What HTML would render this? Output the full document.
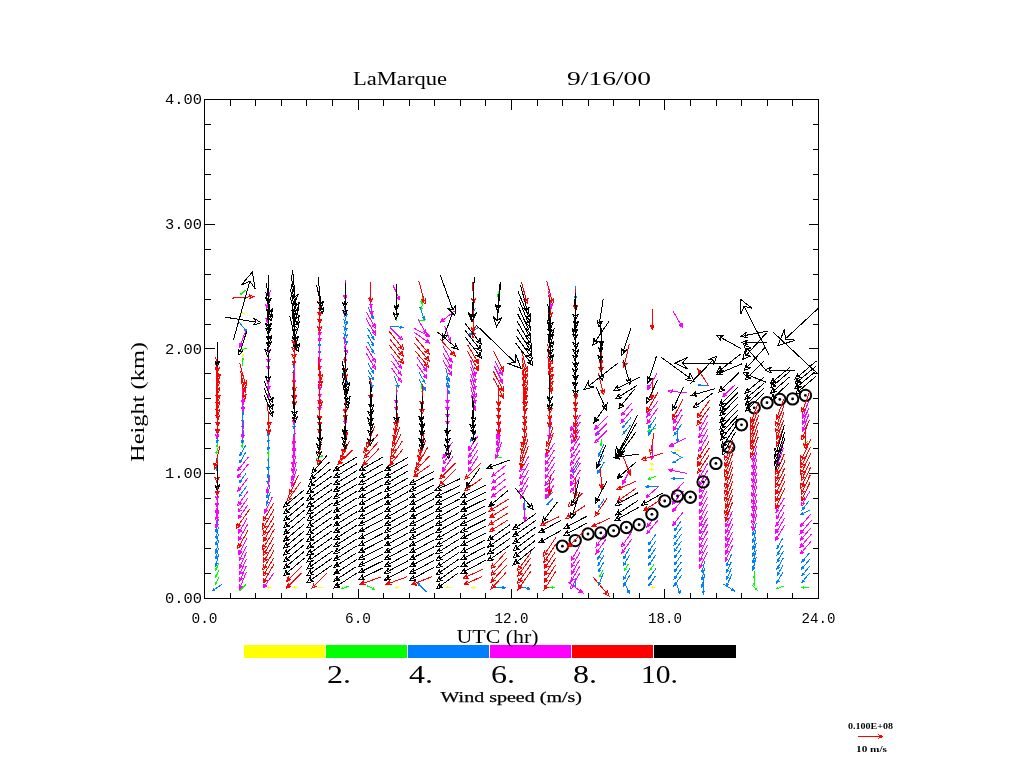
<!DOCTYPE html>
<html><head><meta charset="utf-8"><title>LaMarque 9/16/00</title>
<style>html,body{margin:0;padding:0;background:#fff;}body{width:1024px;height:768px;overflow:hidden;font-family:"Liberation Serif",serif;}svg{display:block;}</style>
</head><body>
<svg width="1024" height="768" viewBox="0 0 1024 768">
<rect x="0" y="0" width="1024" height="768" fill="#ffffff"/>
<defs><clipPath id="pc"><rect x="204.0" y="99.0" width="615.0" height="500.0"/></clipPath></defs>
<g clip-path="url(#pc)" fill="none" stroke-width="1" shape-rendering="crispEdges">
<path stroke="#ffff00" d="M242.9 357.4L242.9 355M242.9 353.9L242 355.7L242.9 355L243.7 355.7ZM244.6 313.1L242.2 313.1M241.1 313.1L242.9 313.9L242.2 313.1L242.9 312.3ZM266.7 587.5L269.1 587.5M270.2 587.5L268.4 586.7L269.1 587.5L268.4 588.3ZM292.3 587.5L294.7 587.5M295.8 587.5L294 586.7L294.7 587.5L294 588.3ZM317.9 587.5L320.3 587.5M321.4 587.5L319.6 586.7L320.3 587.5L319.6 588.3ZM394.6 587.5L397 587.5M398.1 587.5L396.3 586.7L397 587.5L396.3 588.3ZM445.8 587.5L448.2 587.5M449.3 587.5L447.5 586.7L448.2 587.5L447.5 588.3ZM471.4 587.5L473.8 587.5M474.9 587.5L473.1 586.7L473.8 587.5L473.1 588.3ZM650.5 587.5L652.9 587.5M654 587.5L652.1 586.7L652.9 587.5L652.1 588.3ZM654 469.5L651.6 469.5M650.5 469.5L652.3 470.4L651.6 469.5L652.3 468.7ZM654 464L651.6 464M650.5 464L652.3 464.9L651.6 464L652.3 463.2ZM679.5 450.3L677.1 450.3M676 450.3L677.9 451.1L677.1 450.3L677.9 449.5Z"/>
<path stroke="#00ff00" d="M218.8 577.4L216.3 582.9M215.8 583.9L217.3 582.6L216.3 582.9L215.8 581.9ZM218.8 570.6L216.3 575.9M215.8 576.9L217.4 575.6L216.3 575.9L215.8 574.9ZM218.8 563.6L216.2 569.2M215.8 570.2L217.3 568.9L216.2 569.2L215.8 568.2ZM218.5 446.9L216.4 452.6M216.1 453.7L217.5 452.3L216.4 452.6L215.9 451.7ZM217.6 439.6L217 446.2M217 447.3L218 445.6L217 446.2L216.3 445.4ZM245.7 584.7L240.8 589.6M240 590.3L241.9 589.6L240.8 589.6L240.7 588.5ZM243.6 439.6L242.4 446.2M242.2 447.3L243.3 445.7L242.4 446.2L241.7 445.4ZM242.9 365.5L242.9 359.2M242.9 358.1L242 359.9L242.9 359.2L243.7 359.9ZM246.4 348.2L240.3 350.4M239.3 350.8L241.3 350.9L240.3 350.4L240.7 349.3ZM245.3 290.1L241.2 294.2M240.4 295L242.3 294.3L241.2 294.2L241.1 293.1ZM268.8 453.2L268.2 460M268.1 461.1L269.1 459.4L268.2 460L267.4 459.2ZM268.8 446.7L268.2 452.8M268.1 453.9L269.1 452.2L268.2 452.8L267.5 452ZM316.5 458.9L321.8 455.9M322.7 455.4L320.7 455.6L321.8 455.9L321.6 457ZM348.7 586.2L342.7 588.4M341.7 588.8L343.7 588.9L342.7 588.4L343.1 587.4ZM367.3 585.9L373.3 588.7M374.3 589.1L373 587.6L373.3 588.7L372.3 589.1ZM395.8 385.1L396.8 391M397 392L397.5 390.1L396.8 391L395.8 390.4ZM396.4 312.7L396.4 319.2M396.4 320.3L397.2 318.5L396.4 319.2L395.5 318.5ZM421.3 384.7L422.4 391.3M422.6 392.4L423.1 390.4L422.4 391.3L421.5 390.7ZM418.5 320L424.3 320M425.4 320L423.6 319.1L424.3 320L423.6 320.8ZM422.5 302.3L421.6 309M421.4 310.1L422.5 308.5L421.6 309L420.8 308.2ZM422.5 295.7L421.6 301.9M421.4 303L422.5 301.3L421.6 301.9L420.9 301.1ZM502.3 457.2L496.3 457.2M495.2 457.2L497 458L496.3 457.2L497 456.3ZM499.4 288.6L498.2 295.4M498 296.5L499.2 294.8L498.2 295.4L497.5 294.6ZM545.8 587.5L552.8 587.5M553.9 587.5L552.1 586.7L552.8 587.5L552.1 588.3ZM603 570.4L599.7 576.2M599.1 577.1L600.8 576L599.7 576.2L599.3 575.1ZM601 438.5L601 444.5M601 445.6L601.9 443.8L601 444.5L600.2 443.8ZM628.5 563.7L625.3 569.2M624.8 570.2L626.4 569L625.3 569.2L624.9 568.2ZM654.3 563.9L650.7 569.1M650.1 570L651.8 569L650.7 569.1L650.4 568ZM655.9 476.4L649.5 478.7M648.5 479.1L650.5 479.3L649.5 478.7L649.9 477.7ZM655.9 428.4L649.6 430.7M648.5 431.1L650.5 431.2L649.6 430.7L649.9 429.6ZM751.9 584.8L756.4 589.4M757.2 590.2L756.5 588.3L756.4 589.4L755.3 589.5ZM754.9 577.6L754.3 584M754.2 585.1L755.2 583.4L754.3 584L753.5 583.2ZM754.9 570.7L754.3 577.1M754.2 578.2L755.2 576.5L754.3 577.1L753.5 576.4ZM783.7 586.2L777.5 588.4M776.5 588.8L778.5 589L777.5 588.4L777.9 587.4ZM809.4 587.5L803.1 587.5M802 587.5L803.8 588.3L803.1 587.5L803.8 586.7ZM808.3 440.9L803.9 445.2M803.2 446L805 445.3L803.9 445.2L803.8 444.1Z"/>
<path stroke="#0080ff" d="M222 584.2L213.8 589.9M212.6 590.8L215.3 590.3L213.8 589.9L214 588.4ZM218.8 554.3L216.2 564.3M215.7 565.8L217.6 563.6L216.2 564.3L215.3 563ZM218.7 547.6L216.3 557.3M215.9 558.8L217.6 556.7L216.3 557.3L215.4 556.1ZM218.8 539.8L216.2 551.2M215.8 552.9L217.8 550.3L216.2 551.2L215.1 549.7ZM218.5 533.7L216.4 543.7M216.1 545.2L217.8 543L216.4 543.7L215.4 542.5ZM218.5 526.6L216.4 537M216.1 538.6L217.8 536.2L216.4 537L215.4 535.8ZM218.4 519.2L216.4 530.6M216.1 532.3L218 529.7L216.4 530.6L215.3 529.2ZM217.9 457.5L216.9 468.8M216.7 470.5L218.3 467.8L216.9 468.8L215.7 467.6ZM217.5 430.5L217.1 441M217.1 442.6L218.4 440L217.1 441L215.9 440ZM246.5 486.3L240.2 495.2M239.3 496.6L241.9 495.1L240.2 495.2L239.8 493.6ZM246.4 472.7L240.3 481.4M239.4 482.7L241.9 481.3L240.3 481.4L239.9 479.9ZM246 451.8L240.6 461.1M239.8 462.5L242.2 460.8L240.6 461.1L240 459.6ZM245.8 445.2L240.7 454M239.9 455.4L242.2 453.8L240.7 454L240.2 452.6ZM243.5 430L242.4 441.4M242.3 443.2L243.9 440.4L242.4 441.4L241.2 440.2ZM242.9 416.6L242.9 427.5M242.9 429.1L244.1 426.4L242.9 427.5L241.6 426.4ZM242.9 409.7L242.9 420.7M242.9 422.3L244.2 419.6L242.9 420.7L241.6 419.6ZM242.9 403.1L242.9 413.6M242.9 415.2L244.1 412.5L242.9 413.6L241.7 412.5ZM239.2 322.2L245.6 330.2M246.5 331.5L245.9 328.7L245.6 330.2L244 330.2ZM270.3 491.9L267.1 503.1M266.6 504.8L268.7 502.3L267.1 503.1L266.1 501.6ZM269.8 485L267.4 496.2M267.1 498L269 495.4L267.4 496.2L266.4 494.9ZM269 471.5L268.1 482.3M267.9 484L269.4 481.4L268.1 482.3L266.9 481.2ZM269 464.3L268 475.7M267.9 477.4L269.5 474.7L268 475.7L266.8 474.5ZM269 458L268.1 468.5M267.9 470.1L269.4 467.5L268.1 468.5L266.9 467.3ZM268.7 436.9L268.3 448.2M268.2 450L269.7 447.2L268.3 448.2L267 447.1ZM268.7 430.5L268.3 441.1M268.2 442.7L269.6 440.1L268.3 441.1L267.1 440ZM268.7 423.2L268.3 434.5M268.2 436.2L269.6 433.4L268.3 434.5L267 433.3ZM268.5 341.6L268.5 351.6M268.5 353.2L269.6 350.7L268.5 351.6L267.3 350.7ZM294 423L294 434.7M294 436.4L295.4 433.5L294 434.7L292.7 433.5ZM294 417L294 427.2M294 428.7L295.2 426.2L294 427.2L292.9 426.2ZM294.3 361.3L293.9 372.9M293.8 374.7L295.3 371.8L293.9 372.9L292.5 371.7ZM294.2 355.2L293.9 365.5M293.8 367.1L295.1 364.5L293.9 365.5L292.7 364.4ZM319.6 340.8L319.6 352.2M319.6 354L321 351.1L319.6 352.2L318.3 351.1ZM319.6 334L319.6 345.3M319.6 347.1L320.9 344.2L319.6 345.3L318.3 344.2ZM343.6 372.2L346.4 382.8M346.8 384.4L347.4 381.4L346.4 382.8L344.9 382.1ZM343.5 332.6L346.4 342.8M346.9 344.3L347.3 341.4L346.4 342.8L345 342.1ZM343.7 326.1L346.3 335.7M346.8 337.2L347.2 334.5L346.3 335.7L345 335.1ZM343.7 319.2L346.3 328.9M346.7 330.3L347.2 327.6L346.3 328.9L344.9 328.2ZM343.5 311.5L346.4 322.6M346.9 324.3L347.5 321.2L346.4 322.6L344.8 321.9ZM343.8 305.3L346.3 315.3M346.6 316.8L347.2 314L346.3 315.3L344.9 314.6ZM368.7 375.9L372.4 386M372.9 387.5L373.2 384.6L372.4 386L370.8 385.4ZM367.9 369.9L372.9 378.5M373.7 379.8L373.4 377.1L372.9 378.5L371.4 378.2ZM367.7 362.7L373 371.9M373.8 373.3L373.6 370.3L373 371.9L371.4 371.6ZM367.6 341.8L373.2 351.5M374 353L373.7 349.9L373.2 351.5L371.5 351.2ZM367.7 335.1L373.1 344.5M373.9 346L373.7 343L373.1 344.5L371.5 344.3ZM367.6 328.1L373.2 337.8M374 339.3L373.7 336.2L373.2 337.8L371.5 337.5ZM368.2 307.6L372.7 317.2M373.4 318.6L373.4 315.7L372.7 317.2L371.1 316.7ZM393.9 375.5L398.2 386.3M398.9 387.9L399.1 384.7L398.2 386.3L396.5 385.7ZM390.2 326.3L401 327.2M402.6 327.4L400 325.9L401 327.2L399.8 328.4ZM426.3 591.8L418.8 584.3M417.7 583.2L418.7 585.9L418.8 584.3L420.4 584.2ZM418.6 378.6L424.4 388.7M425.3 390.3L425 387L424.4 388.7L422.7 388.4ZM418.9 372.3L424.2 381.4M425 382.8L424.7 379.9L424.2 381.4L422.6 381.2ZM419.8 307L423.6 317.6M424.2 319.2L424.4 316.1L423.6 317.6L422 317ZM446 383L448.6 392.7M449 394.2L449.5 391.4L448.6 392.7L447.3 392ZM446 375.8L448.7 386.1M449.1 387.6L449.6 384.7L448.7 386.1L447.2 385.4ZM445.8 368.4L448.8 379.6M449.3 381.3L449.8 378.1L448.8 379.6L447.2 378.8ZM476.1 431.5L471 440.3M470.2 441.7L472.5 440L471 440.3L470.4 438.9ZM477.9 327.6L469.6 334.6M468.3 335.6L471.2 334.9L469.6 334.6L469.6 332.9ZM475.6 307.8L471.3 317M470.6 318.4L472.8 316.6L471.3 317L470.6 315.6ZM492.1 587.3L503.5 587.7M505.3 587.7L502.5 586.3L503.5 587.7L502.4 589ZM518.6 586L528.5 588.6M530 589L527.8 587.2L528.5 588.6L527.2 589.5ZM524.1 499.4L524.4 509.4M524.5 511L525.6 508.4L524.4 509.4L523.2 508.5ZM553.1 498.6L547.5 504.1M546.7 504.9L548.7 504.2L547.5 504.1L547.4 502.9ZM553.1 491.7L547.5 497.2M546.7 498.1L548.7 497.3L547.5 497.2L547.4 496ZM549.9 416.8L549.9 427.4M549.9 429L551.1 426.3L549.9 427.4L548.6 426.3ZM575.9 578.2L575.2 586M575.1 587.2L576.1 585.3L575.2 586L574.3 585.2ZM578.7 461.8L573.1 471.6M572.2 473.1L574.8 471.3L573.1 471.6L572.5 470ZM575.5 286L575.5 297.3M575.5 299L576.8 296.2L575.5 297.3L574.1 296.2ZM603.2 573.3L599.4 583.7M598.9 585.3L601 583.1L599.4 583.7L598.6 582.2ZM604 561.8L598.8 570.7M598.1 572.1L600.4 570.4L598.8 570.7L598.3 569.2ZM604.1 554.8L598.8 563.9M598 565.3L600.4 563.7L598.8 563.9L598.2 562.4ZM604.3 547.6L598.7 557.3M597.8 558.8L600.4 557L598.7 557.3L598.1 555.7ZM603.9 499.7L598.9 506.8M598.2 507.9L600.3 506.7L598.9 506.8L598.6 505.5ZM604.4 461.7L598.6 471.7M597.7 473.2L600.3 471.4L598.6 471.7L598 470ZM604.1 455.3L598.8 464.5M598 465.9L600.4 464.2L598.8 464.5L598.3 463ZM603.7 444.5L599.1 454.6M598.3 456.1L600.7 454.1L599.1 454.6L598.3 453ZM605 425.3L598.1 433M597.1 434.1L599.7 433L598.1 433L597.9 431.4ZM623.8 581.4L628.7 592M629.4 593.6L629.4 590.3L628.7 592L627 591.5ZM629.7 575.3L624.4 584.6M623.5 586L626 584.3L624.4 584.6L623.8 583ZM630 568L624.2 578.1M623.3 579.6L625.9 577.7L624.2 578.1L623.6 576.4ZM629.6 554.9L624.4 563.9M623.6 565.2L626 563.6L624.4 563.9L623.9 562.4ZM629.8 547.8L624.3 557.2M623.5 558.6L626 556.9L624.3 557.2L623.7 555.6ZM630.3 425.3L623.9 433M622.9 434.2L625.4 433L623.9 433L623.6 431.5ZM630.9 417.7L623.5 426.6M622.3 428L625.2 426.6L623.5 426.6L623.2 424.9ZM655.6 575.7L649.7 584.3M648.8 585.5L651.3 584.1L649.7 584.3L649.3 582.7ZM655.8 568.7L649.6 577.5M648.6 578.9L651.2 577.4L649.6 577.5L649.2 575.9ZM655.8 555L649.6 563.8M648.6 565.2L651.2 563.7L649.6 563.8L649.2 562.2ZM655.8 548.1L649.6 556.9M648.6 558.3L651.2 556.8L649.6 556.9L649.2 555.4ZM656 540.9L649.4 550.3M648.4 551.8L651.2 550.2L649.4 550.3L649 548.6ZM656 534.1L649.4 543.4M648.4 544.9L651.2 543.3L649.4 543.4L649 541.8ZM658.5 486.7L647.6 486.7M645.9 486.7L648.7 487.9L647.6 486.7L648.7 485.4ZM656 424.4L649.5 433.7M648.5 435.1L651.2 433.5L649.5 433.7L649 432ZM656 417.4L649.4 426.9M648.4 428.3L651.2 426.7L649.4 426.9L648.9 425.2ZM675.6 581.5L679.4 591.9M680 593.5L680.2 590.5L679.4 591.9L677.8 591.3ZM681.7 575.1L674.9 584.7M673.9 586.2L676.7 584.5L674.9 584.7L674.5 583ZM681.6 568.3L675 577.8M674 579.2L676.7 577.6L675 577.8L674.5 576.1ZM681.2 562.1L675.3 570.5M674.4 571.8L676.9 570.3L675.3 570.5L674.9 569ZM681.3 555.1L675.2 563.7M674.3 565L676.8 563.6L675.2 563.7L674.8 562.2ZM681.1 548.5L675.3 556.7M674.5 557.9L676.9 556.6L675.3 556.7L675 555.2ZM681.5 541.1L675.1 550.2M674.1 551.6L676.8 550.1L675.1 550.2L674.6 548.6ZM681.5 534.2L675.1 543.4M674.1 544.8L676.8 543.2L675.1 543.4L674.6 541.7ZM681.5 527.3L675.1 536.5M674.1 537.9L676.8 536.4L675.1 536.5L674.6 534.9ZM681.2 520.9L675.3 529.4M674.4 530.7L676.8 529.2L675.3 529.4L674.9 527.8ZM683.7 478.4L673.4 478.4M671.9 478.4L674.5 479.6L673.4 478.4L674.5 477.2ZM683.1 456.9L673.9 462.1M672.5 462.9L675.4 462.7L673.9 462.1L674.2 460.6ZM683.1 458.2L673.9 452.8M672.4 452L674.1 454.4L673.9 452.8L675.4 452.3ZM678 428.5L677.6 440.2M677.6 441.9L679 439.1L677.6 440.2L676.3 439ZM681.5 424.4L675.1 433.6M674.1 435L676.8 433.5L675.1 433.6L674.6 432ZM703.4 581.4L703.4 592M703.4 593.6L704.6 590.9L703.4 592L702.1 590.9ZM704.8 574.3L702.3 585.3M701.9 586.9L703.8 584.5L702.3 585.3L701.3 583.9ZM704.8 567.7L702.3 578.3M702 579.9L703.8 577.5L702.3 578.3L701.3 576.9ZM704.7 561.3L702.4 571.1M702.1 572.5L703.8 570.4L702.4 571.1L701.5 569.8ZM708.4 385.1L699.7 385.1M698.4 385.1L700.6 386.1L699.7 385.1L700.6 384.1ZM723.5 584L733 590.1M734.4 591L732.8 588.4L733 590.1L731.3 590.6ZM731.8 574.6L726.9 585.1M726.2 586.6L728.6 584.6L726.9 585.1L726.2 583.5ZM731.6 568.1L727 578M726.3 579.5L728.6 577.5L727 578L726.3 576.5ZM731.4 561.6L727.1 570.8M726.5 572.3L728.6 570.4L727.1 570.8L726.5 569.4ZM731.7 554.1L726.9 564.4M726.2 566L728.6 564L726.9 564.4L726.2 562.9ZM756.2 557.1L753.3 568.2M752.8 569.8L754.9 567.4L753.3 568.2L752.3 566.7ZM756.2 550.4L753.3 561.2M752.9 562.8L754.9 560.5L753.3 561.2L752.3 559.8ZM756.3 543.3L753.3 554.5M752.8 556.2L754.9 553.8L753.3 554.5L752.3 553.1ZM756.2 536.6L753.3 547.6M752.8 549.2L754.9 546.8L753.3 547.6L752.3 546.1ZM756.2 529.7L753.3 540.7M752.8 542.4L754.9 540L753.3 540.7L752.3 539.3ZM756.2 523.1L753.3 533.7M752.9 535.3L754.9 532.9L753.3 533.7L752.4 532.3ZM783.4 571.5L777.7 581.4M776.8 582.9L779.4 581.1L777.7 581.4L777.1 579.8ZM783 565.3L778 574M777.2 575.4L779.5 573.8L778 574L777.5 572.6ZM783.3 558L777.8 567.6M776.9 569L779.4 567.3L777.8 567.6L777.2 566ZM783.3 551.2L777.8 560.6M777 562.1L779.5 560.3L777.8 560.6L777.2 559.1ZM783.2 544.4L777.8 553.7M777 555.2L779.5 553.4L777.8 553.7L777.3 552.2ZM783.3 537.4L777.8 547M777 548.4L779.4 546.7L777.8 547L777.2 545.4ZM809.7 573.1L802.7 581.4M801.7 582.7L804.4 581.4L802.7 581.4L802.5 579.8ZM809.6 566.4L802.8 574.5M801.8 575.7L804.4 574.4L802.8 574.5L802.6 572.9ZM809.9 559.1L802.6 567.9M801.5 569.2L804.3 567.9L802.6 567.9L802.3 566.2ZM809.6 552.7L802.9 560.7M801.8 561.9L804.5 560.7L802.9 560.7L802.6 559.1ZM810.2 509.9L802.4 513.6M801.2 514.2L803.6 514.2L802.4 513.6L802.7 512.3ZM809.3 500.6L803.1 508.5M802.1 509.7L804.6 508.5L803.1 508.5L802.8 507Z"/>
<path stroke="#ff00ff" d="M218.6 509.9L216.4 525.5M216 527.9L218.4 524.2L216.4 525.5L214.8 523.7ZM218.3 503L216.5 518.7M216.3 521.1L218.5 517.4L216.5 518.7L214.9 517ZM218.1 496.5L216.7 511.6M216.5 513.9L218.6 510.2L216.7 511.6L215.1 509.9ZM217.8 489.9L216.9 504.5M216.8 506.7L218.7 503.2L216.9 504.5L215.3 503ZM217.6 482.7L217.1 497.9M217 500.2L218.9 496.5L217.1 497.9L215.3 496.3ZM217.6 421L217.1 436.1M217 438.4L218.9 434.7L217.1 436.1L215.4 434.6ZM246.3 572.2L240.4 586.8M239.5 589.1L242.7 586.1L240.4 586.8L239.2 584.7ZM246.1 566.3L240.5 579.3M239.7 581.3L242.6 578.7L240.5 579.3L239.6 577.4ZM246.4 559L240.3 572.7M239.4 574.8L242.5 572.1L240.3 572.7L239.3 570.7ZM246.8 551.7L240 566.2M239 568.4L242.4 565.6L240 566.2L239 564ZM246.5 545.8L240.2 558.7M239.3 560.6L242.3 558.1L240.2 558.7L239.3 556.7ZM247 538.1L239.8 552.4M238.7 554.5L242.2 551.8L239.8 552.4L238.9 550.1ZM247.6 524.5L239.4 538.6M238.2 540.8L241.9 538.2L239.4 538.6L238.6 536.3ZM247.1 518.4L239.8 531.1M238.7 533.1L242 530.8L239.8 531.1L239 529ZM247.5 505.4L239.5 516.9M238.3 518.6L241.6 516.7L239.5 516.9L238.9 514.8ZM247.7 498.3L239.3 510.3M238.1 512.1L241.5 510.1L239.3 510.3L238.8 508.1ZM248 491L239.1 503.7M237.7 505.7L241.5 503.5L239.1 503.7L238.5 501.4ZM247.9 478.1L239.2 489.4M237.8 491.1L241.3 489.3L239.2 489.4L238.7 487.2ZM248.4 463.9L238.8 476M237.4 477.9L241.2 476L238.8 476L238.4 473.7ZM248.2 457.2L238.9 469.1M237.5 470.9L241.2 469L238.9 469.1L238.5 466.8ZM243.2 421.2L242.7 436M242.6 438.2L244.4 434.6L242.7 436L241 434.5ZM242.6 393.4L243.1 408.8M243.2 411.1L244.8 407.2L243.1 408.8L241.3 407.3ZM242.6 386.6L243.1 401.9M243.2 404.2L244.8 400.3L243.1 401.9L241.3 400.4ZM246.1 329.7L240.5 345M239.7 347.3L242.9 344.1L240.5 345L239.3 342.8ZM273.5 573.4L264.7 586M263.4 587.9L267.1 585.8L264.7 586L264.1 583.7ZM272.2 497.2L265.7 511M264.7 513.2L268 510.4L265.7 511L264.7 508.9ZM269.9 476.3L267.4 490.7M267 492.9L269.3 489.6L267.4 490.7L265.9 489ZM268.5 379.7L268.5 395.1M268.5 397.5L270.3 393.6L268.5 395.1L266.7 393.6ZM268.5 373.5L268.5 387.7M268.5 389.9L270.1 386.3L268.5 387.7L266.8 386.3ZM268.8 365.9L268.2 381.5M268.1 383.8L270.1 380L268.2 381.5L266.5 379.9ZM268.5 352.7L268.5 367.3M268.5 369.5L270.2 365.9L268.5 367.3L266.7 365.9ZM268.5 345.3L268.5 360.9M268.5 363.2L270.3 359.3L268.5 360.9L266.6 359.3ZM270.4 290.3L267 306.1M266.5 308.5L269.2 304.9L267 306.1L265.5 304.1ZM269.8 303.7L267.5 320M267.1 322.5L269.6 318.6L267.5 320L265.8 318.1ZM296.5 469.2L292.2 484M291.6 486.3L294.4 483.1L292.2 484L290.9 482.1ZM296.3 461.8L292.4 477.6M291.8 480L294.6 476.5L292.4 477.6L290.9 475.6ZM295.7 455.7L292.8 470.1M292.4 472.3L294.8 469L292.8 470.1L291.4 468.4ZM295.5 448.2L293 463.8M292.6 466.1L295.1 462.5L293 463.8L291.4 461.9ZM295 442.3L293.4 456.2M293.1 458.3L295.1 455L293.4 456.2L291.9 454.7ZM294.7 435.3L293.6 449.5M293.4 451.6L295.3 448.2L293.6 449.5L292 447.9ZM294.3 428L293.8 442.9M293.7 445.2L295.6 441.5L293.8 442.9L292.1 441.4ZM294 407.6L294 422.2M294 424.4L295.7 420.7L294 422.2L292.3 420.7ZM294 365.7L294 381.6M294 384L295.9 380L294 381.6L292.2 380ZM319.6 393.4L319.6 408.8M319.6 411.2L321.4 407.3L319.6 408.8L317.8 407.3ZM319.6 386.7L319.6 401.9M319.6 404.2L321.4 400.4L319.6 401.9L317.8 400.4ZM319.6 379.4L319.6 395.3M319.6 397.7L321.5 393.7L319.6 395.3L317.8 393.7ZM319.6 373L319.6 388.1M319.6 390.4L321.4 386.6L319.6 388.1L317.9 386.6ZM319.6 352.5L319.6 367.5M319.6 369.8L321.4 366L319.6 367.5L317.9 366ZM319.6 345.9L319.6 360.4M319.6 362.6L321.3 359L319.6 360.4L317.9 359ZM319.6 325.5L319.6 339.7M319.6 341.8L321.3 338.3L319.6 339.7L318 338.3ZM319.6 318L319.6 333.3M319.6 335.7L321.4 331.8L319.6 333.3L317.8 331.8ZM345.2 407.6L345.2 422.2M345.2 424.4L346.9 420.7L345.2 422.2L343.5 420.7ZM344.9 345.9L345.4 360.4M345.5 362.6L347.1 358.9L345.4 360.4L343.7 359ZM343.7 336.7L346.3 351.7M346.7 354L347.8 349.9L346.3 351.7L344.3 350.5ZM345.2 296.9L345.2 313.1M345.2 315.6L347.1 311.5L345.2 313.1L343.3 311.5ZM345.2 280.4L345.2 296.7M345.2 299.1L347.1 295.1L345.2 296.7L343.3 295.1ZM366.3 353.3L374.1 366.8M375.3 368.9L374.9 364.6L374.1 366.8L371.8 366.4ZM366.3 346.4L374.1 360M375.3 362.1L374.9 357.8L374.1 360L371.8 359.6ZM366.1 318.7L374.3 332.8M375.5 335L375.1 330.5L374.3 332.8L371.8 332.4ZM366.2 311.9L374.2 325.9M375.4 328L375 323.6L374.2 325.9L371.8 325.4ZM369.5 297.2L371.7 312.9M372.1 315.3L373.3 311.1L371.7 312.9L369.7 311.6ZM370.5 291.2L371 305.4M371.1 307.5L372.6 303.9L371 305.4L369.3 304ZM396.4 393.5L396.4 408.7M396.4 411L398.1 407.2L396.4 408.7L394.6 407.2ZM396.4 387.1L396.4 401.5M396.4 403.7L398.1 400.1L396.4 401.5L394.7 400.1ZM391.4 367.8L400 380M401.3 381.9L400.6 377.8L400 380L397.7 379.8ZM391.6 361.2L399.9 373M401.1 374.8L400.4 370.8L399.9 373L397.7 372.8ZM391.3 353.9L400.1 366.4M401.4 368.3L400.7 364.2L400.1 366.4L397.8 366.2ZM390.1 327.4L401 338.3M402.6 339.9L401.2 335.9L401 338.3L398.6 338.5ZM392.9 285L398.9 298M399.9 300L399.9 296L398.9 298L396.8 297.5ZM417.2 364.6L425.5 376.4M426.8 378.3L426.1 374.3L425.5 376.4L423.3 376.2ZM417.1 357.6L425.6 369.7M426.8 371.5L426.1 367.5L425.6 369.7L423.3 369.5ZM414.3 332.4L427.6 341.8M429.7 343.2L427.4 339.3L427.6 341.8L425.2 342.4ZM414.4 328.5L427.5 335.1M429.5 336.1L427 332.9L427.5 335.1L425.4 336ZM417.9 319L425 331.4M426.1 333.2L425.7 329.3L425 331.4L422.8 331ZM452.9 456.4L443.6 469.7M442.2 471.7L446.1 469.4L443.6 469.7L443 467.3ZM451.9 450.3L444.3 462.2M443.1 464.1L446.5 461.9L444.3 462.2L443.7 460.2ZM452.2 442.3L444.1 456.2M442.9 458.3L446.5 455.8L444.1 456.2L443.3 453.9ZM447.5 406.9L447.5 422.7M447.5 425.1L449.4 421.1L447.5 422.7L445.7 421.1ZM447.5 400L447.5 415.9M447.5 418.3L449.4 414.3L447.5 415.9L445.7 414.3ZM447.5 393.6L447.5 408.7M447.5 411L449.3 407.2L447.5 408.7L445.8 407.2ZM447.5 386.5L447.5 402M447.5 404.3L449.3 400.4L447.5 402L445.7 400.4ZM443.1 360.4L450.8 373.6M451.9 375.6L451.6 371.4L450.8 373.6L448.5 373.2ZM443.2 353.6L450.7 366.7M451.9 368.7L451.5 364.5L450.7 366.7L448.5 366.3ZM443 346.4L450.9 360.1M452.1 362.2L451.7 357.8L450.9 360.1L448.5 359.7ZM444.6 325.7L449.7 339.6M450.5 341.7L450.8 337.6L449.7 339.6L447.6 338.8ZM454.6 311L442.4 320.6M440.5 322L444.7 321.1L442.4 320.6L442.5 318.2ZM478 456.4L469.5 469.6M468.2 471.6L471.9 469.3L469.5 469.6L468.8 467.3ZM477.9 449.8L469.6 462.6M468.4 464.5L471.9 462.3L469.6 462.6L468.9 460.3ZM477.6 443.4L469.8 455.4M468.6 457.2L472 455.1L469.8 455.4L469.2 453.3ZM477.8 436.3L469.7 448.7M468.5 450.6L471.9 448.4L469.7 448.7L469 446.5ZM470.9 394.4L474.8 408.1M475.4 410.1L476 406.3L474.8 408.1L472.8 407.2ZM470.7 387.1L474.9 401.6M475.6 403.8L476.2 399.6L474.9 401.6L472.8 400.6ZM470.4 379.5L475.1 395.2M475.9 397.6L476.5 393.1L475.1 395.2L472.8 394.2ZM470.6 373.5L475 387.7M475.7 389.9L476.2 385.8L475 387.7L472.9 386.8ZM470.6 366.9L475 380.7M475.7 382.8L476.2 378.8L475 380.7L472.9 379.9ZM470.4 359.7L475.1 374.1M475.8 376.3L476.3 372.1L475.1 374.1L473 373.2ZM506.1 485.7L493.3 495.7M491.3 497.2L495.7 496.2L493.3 495.7L493.4 493.2ZM505.7 479.1L493.6 488.6M491.7 490.1L495.9 489.1L493.6 488.6L493.6 486.3ZM505.3 472.6L493.8 481.5M492.1 482.9L496 482L493.8 481.5L493.9 479.3ZM505.6 465.5L493.7 474.8M491.8 476.2L495.9 475.3L493.7 474.8L493.7 472.5ZM501.6 442.4L496.6 456.1M495.8 458.2L498.7 455.4L496.6 456.1L495.5 454.2ZM500.2 434.7L497.6 449.9M497.2 452.2L499.6 448.7L497.6 449.9L496.1 448.1ZM500.3 427.5L497.5 443.3M497.1 445.7L499.6 442L497.5 443.3L496 441.4ZM500.3 420.6L497.5 436.4M497.1 438.8L499.6 435.2L497.5 436.4L496 434.5ZM494.5 366.5L501.8 381M502.9 383.2L502.8 378.7L501.8 381L499.4 380.4ZM495 360.8L501.4 373.3M502.4 375.2L502.3 371.3L501.4 373.3L499.3 372.8ZM523.5 502.9L524.9 518.8M525.1 521.2L526.6 517.1L524.9 518.8L522.9 517.4ZM528.3 484.4L521.3 496.6M520.2 498.5L523.4 496.2L521.3 496.6L520.6 494.6ZM528.8 476.9L521 490.3M519.8 492.3L523.3 489.9L521 490.3L520.2 488.1ZM528.6 470.3L521.2 483.2M520 485.1L523.4 482.8L521.2 483.2L520.4 481ZM528.7 463.2L521 476.5M519.9 478.5L523.3 476.1L521 476.5L520.2 474.3ZM528.7 456.4L521.1 469.6M519.9 471.6L523.4 469.2L521.1 469.6L520.3 467.4ZM554.2 484.5L546.7 496.6M545.5 498.4L548.8 496.3L546.7 496.6L546 494.5ZM554.3 477.4L546.6 489.9M545.4 491.8L548.8 489.6L546.6 489.9L545.9 487.7ZM554.8 469.8L546.2 483.6M544.9 485.6L548.7 483.2L546.2 483.6L545.5 481.2ZM554.5 463.5L546.5 476.3M545.2 478.3L548.8 476L546.5 476.3L545.8 474.1ZM554.5 456.6L546.5 469.5M545.3 471.4L548.8 469.1L546.5 469.5L545.8 467.3ZM554.5 449.7L546.5 462.6M545.2 464.6L548.8 462.3L546.5 462.6L545.7 460.4ZM554.3 443.2L546.6 455.5M545.4 457.4L548.8 455.2L546.6 455.5L545.9 453.4ZM550.7 420.3L549.3 436.6M549.1 439.1L551.3 435.2L549.3 436.6L547.5 434.9ZM548.4 290.8L551 305.7M551.4 308L552.5 303.9L551 305.7L549 304.6ZM568.1 582L580.9 591.6M582.8 593L580.7 589.1L580.9 591.6L578.5 592.1ZM580.1 572.6L572.1 586.5M570.8 588.6L574.5 586.1L572.1 586.5L571.2 584.2ZM580 565.9L572.1 579.6M570.9 581.7L574.5 579.2L572.1 579.6L571.3 577.3ZM579.5 559.9L572.5 572.1M571.4 574L574.6 571.7L572.5 572.1L571.7 570.1ZM579.8 552.6L572.3 565.6M571.1 567.5L574.5 565.2L572.3 565.6L571.5 563.4ZM579.7 545.8L572.3 558.6M571.2 560.6L574.6 558.2L572.3 558.6L571.6 556.5ZM580.1 477.2L572 490.1M570.8 492L574.3 489.7L572 490.1L571.3 487.9ZM580.4 469.8L571.8 483.6M570.5 485.7L574.3 483.2L571.8 483.6L571 481.2ZM580.4 462.9L571.8 476.7M570.5 478.9L574.3 476.4L571.8 476.7L571 474.4ZM580.1 456.7L572.1 469.4M570.9 471.4L574.4 469.1L572.1 469.4L571.4 467.2ZM580.2 449.5L571.9 462.8M570.7 464.8L574.3 462.5L571.9 462.8L571.2 460.5ZM579.9 443.2L572.2 455.5M571 457.4L574.4 455.2L572.2 455.5L571.5 453.4ZM580.2 435.9L572 449M570.7 451L574.3 448.7L572 449L571.3 446.8ZM579.7 429.7L572.3 441.6M571.2 443.4L574.4 441.3L572.3 441.6L571.6 439.6ZM580.2 422.1L572 435.3M570.7 437.3L574.3 435L572 435.3L571.2 433.1ZM580.4 415L571.8 428.6M570.5 430.7L574.3 428.3L571.8 428.6L571.1 426.3ZM606.3 538.8L597.1 551.9M595.8 553.9L599.6 551.7L597.1 551.9L596.5 549.5ZM606.1 532.2L597.3 544.8M596 546.7L599.6 544.6L597.3 544.8L596.7 542.5ZM607.1 430.5L596.6 441M595 442.6L598.9 441.2L596.6 441L596.4 438.8ZM606.9 423.8L596.7 434M595.2 435.6L598.9 434.2L596.7 434L596.5 431.8ZM607.6 416.3L596.2 427.7M594.5 429.4L598.7 427.9L596.2 427.7L596 425.2ZM631.5 539.4L623 551.5M621.8 553.3L625.3 551.3L623 551.5L622.5 549.3ZM631.8 532.1L622.8 544.9M621.4 546.9L625.2 544.7L622.8 544.9L622.2 542.6ZM630.6 468.6L623.7 482.1M622.7 484.1L626 481.5L623.7 482.1L622.8 479.9ZM632.3 409.2L622.5 421M621 422.8L624.8 421L622.5 421L622.1 418.7ZM631.9 402.9L622.7 413.8M621.4 415.4L624.9 413.8L622.7 413.8L622.4 411.6ZM657.7 520.6L648.2 531.9M646.8 533.6L650.4 531.9L648.2 531.9L647.8 529.7ZM657.7 514.9L648.2 525.4M646.8 527L650.4 525.5L648.2 525.4L647.9 523.3ZM658.2 486.8L647.8 496.1M646.2 497.5L649.9 496.4L647.8 496.1L647.7 494ZM652.5 442.4L652 457.3M651.9 459.5L653.8 455.9L652 457.3L650.3 455.8ZM657.5 408.4L648.3 421.6M646.9 423.6L650.7 421.4L648.3 421.6L647.7 419.2ZM657.6 401.4L648.2 414.8M646.8 416.8L650.7 414.6L648.2 414.8L647.6 412.4ZM656.9 373.6L648.8 387.7M647.5 389.8L651.2 387.2L648.8 387.7L647.9 385.3ZM682.9 512.3L674 523.7M672.7 525.5L676.2 523.6L674 523.7L673.6 521.6ZM683.1 498.8L673.9 509.9M672.4 511.5L676.1 509.9L673.9 509.9L673.5 507.7ZM683.5 490.8L673.6 502.6M672.1 504.4L676 502.6L673.6 502.6L673.2 500.3ZM683.7 482.2L673.5 493.5M671.9 495.3L675.8 493.6L673.5 493.5L673.1 491.2ZM686.6 473.3L671.3 470.3M668.9 469.8L672.4 472.4L671.3 470.3L673.1 468.8ZM686.2 437.8L671.6 445.2M669.4 446.3L673.9 446.2L671.6 445.2L672.2 442.8ZM682.3 415.1L674.5 428.6M673.3 430.6L676.8 428.2L674.5 428.6L673.7 426.3ZM682 408.7L674.7 421.4M673.6 423.3L676.9 421L674.7 421.4L673.9 419.3ZM687 393L671 391.3M668.6 391L672.4 393.3L671 391.3L672.8 389.6ZM673.1 311.2L681.2 325.2M682.4 327.3L682.1 322.9L681.2 325.2L678.8 324.8ZM707.6 551.8L700.3 566.2M699.2 568.4L702.7 565.6L700.3 566.2L699.3 563.9ZM707.6 544.9L700.3 559.3M699.1 561.5L702.7 558.7L700.3 559.3L699.3 557ZM707.6 538L700.2 552.5M699.1 554.7L702.7 551.9L700.2 552.5L699.3 550.2ZM707.7 531.1L700.2 545.7M699.1 547.9L702.7 545.1L700.2 545.7L699.3 543.4ZM707.6 524.4L700.3 538.7M699.2 540.8L702.7 538.1L700.3 538.7L699.3 536.4ZM707.5 517.7L700.3 531.7M699.3 533.9L702.7 531.2L700.3 531.7L699.4 529.5ZM707.3 511.2L700.5 524.6M699.4 526.6L702.7 524.1L700.5 524.6L699.6 522.5ZM707.4 504.2L700.4 517.8M699.4 519.9L702.7 517.3L700.4 517.8L699.5 515.7ZM707.6 497L700.3 511.2M699.2 513.4L702.7 510.7L700.3 511.2L699.3 509ZM707.1 491L700.6 503.7M699.6 505.7L702.8 503.2L700.6 503.7L699.8 501.7ZM707 484.3L700.7 496.8M699.7 498.7L702.8 496.3L700.7 496.8L699.8 494.8ZM707.5 476.5L700.3 490.5M699.3 492.7L702.7 490L700.3 490.5L699.4 488.3ZM707.7 470.2L700.2 483.3M699 485.3L702.4 482.9L700.2 483.3L699.4 481.1ZM707.9 463L700 476.7M698.8 478.8L702.4 476.3L700 476.7L699.2 474.4ZM707.9 435.5L700 449.3M698.8 451.4L702.4 448.8L700 449.3L699.2 447ZM707.6 429.3L700.3 441.9M699.2 443.8L702.5 441.5L700.3 441.9L699.5 439.8ZM707.8 422L700.1 435.4M698.9 437.4L702.4 435L700.1 435.4L699.3 433.2ZM707.6 415.5L700.2 428.3M699.1 430.2L702.5 427.9L700.2 428.3L699.5 426.2ZM732.9 544.7L726 559.4M725 561.7L728.4 558.8L726 559.4L725 557.2ZM732.7 538.3L726.2 552.3M725.2 554.4L728.5 551.6L726.2 552.3L725.2 550.1ZM732.5 531.9L726.4 545.1M725.4 547.1L728.5 544.5L726.4 545.1L725.4 543ZM732.9 524.1L726 538.9M725 541.2L728.4 538.3L726 538.9L725 536.6ZM732.4 518.3L726.4 531.2M725.5 533.2L728.5 530.7L726.4 531.2L725.5 529.3ZM732.8 510.7L726.1 525M725.1 527.1L728.5 524.3L726.1 525L725.1 522.8ZM735.2 384.6L724.4 395M722.7 396.6L726.7 395.3L724.4 395L724.2 392.8ZM756.7 514.3L753 528.2M752.4 530.4L755 527.3L753 528.2L751.7 526.4ZM756.9 506.6L752.8 522M752.2 524.3L755 520.9L752.8 522L751.4 520ZM756.9 499.8L752.8 515.1M752.2 517.4L755 514L752.8 515.1L751.4 513.1ZM756.7 493.6L752.9 507.7M752.4 509.9L755 506.8L752.9 507.7L751.7 505.9ZM756.9 486.1L752.8 501.3M752.2 503.7L755 500.3L752.8 501.3L751.4 499.4ZM756.8 479.5L752.9 494.3M752.2 496.6L755 493.3L752.9 494.3L751.5 492.4ZM756.6 473.3L753 486.9M752.4 489L754.9 486L753 486.9L751.8 485.2ZM756.8 465.9L752.9 480.5M752.3 482.8L755 479.5L752.9 480.5L751.5 478.6ZM756.8 459L752.9 473.7M752.3 475.9L755 472.7L752.9 473.7L751.5 471.8ZM756.7 452.5L752.9 466.6M752.4 468.7L755 465.6L752.9 466.6L751.7 464.7ZM756.7 445.7L753 459.7M752.4 461.8L755 458.7L753 459.7L751.7 457.8ZM784.6 524.9L776.9 538.3M775.7 540.3L779.2 537.9L776.9 538.3L776.1 536.1ZM784.6 518L776.8 531.5M775.6 533.5L779.2 531.1L776.8 531.5L776 529.2ZM784.4 511.6L777 524.3M775.9 526.2L779.2 523.9L777 524.3L776.2 522.2ZM784.2 505.1L777.2 517.2M776.1 519L779.3 516.8L777.2 517.2L776.4 515.2ZM784.2 498.1L777.1 510.4M776 512.3L779.2 510L777.1 510.4L776.4 508.4ZM783.3 448.3L777.8 463.6M776.9 466L780.1 462.8L777.8 463.6L776.5 461.5ZM783 442.4L778 456.1M777.2 458.2L780.1 455.3L778 456.1L776.9 454.2ZM811 541.4L801.8 552.3M800.4 554L804 552.3L801.8 552.3L801.5 550.2ZM811.4 534.1L801.5 545.8M800 547.6L803.9 545.8L801.5 545.8L801.1 543.5ZM811 527.7L801.8 538.6M800.4 540.3L804 538.6L801.8 538.6L801.4 536.5ZM811.6 520.2L801.4 532.3M799.9 534.1L803.8 532.3L801.4 532.3L801 529.9ZM811.1 513.8L801.7 525M800.3 526.7L804 525L801.7 525L801.3 522.8ZM810.2 490.6L802.4 504M801.2 506L804.8 503.6L802.4 504L801.6 501.8ZM808.8 414.4L803.4 429.1M802.6 431.4L805.7 428.3L803.4 429.1L802.2 427ZM808.7 407.8L803.5 422.1M802.7 424.2L805.7 421.3L803.5 422.1L802.3 420ZM808.9 400.3L803.3 415.7M802.5 418L805.7 414.8L803.3 415.7L802.1 413.5Z"/>
</g>
<g fill="none" stroke="#000" stroke-width="2">
<circle cx="562.4" cy="546.2" r="5.7"/>
<circle cx="575.2" cy="540.6" r="5.7"/>
<circle cx="588" cy="534" r="5.7"/>
<circle cx="600.8" cy="532.9" r="5.7"/>
<circle cx="613.6" cy="530.7" r="5.7"/>
<circle cx="626.4" cy="527.5" r="5.7"/>
<circle cx="639.1" cy="524.7" r="5.7"/>
<circle cx="651.9" cy="514.3" r="5.7"/>
<circle cx="664.7" cy="501" r="5.7"/>
<circle cx="677.5" cy="496" r="5.7"/>
<circle cx="690.3" cy="497.2" r="5.7"/>
<circle cx="703.1" cy="481.9" r="5.7"/>
<circle cx="715.9" cy="463.4" r="5.7"/>
<circle cx="728.7" cy="447" r="5.7"/>
<circle cx="741.5" cy="424.8" r="5.7"/>
<circle cx="754.2" cy="407.8" r="5.7"/>
<circle cx="767" cy="402.7" r="5.7"/>
<circle cx="779.8" cy="399.4" r="5.7"/>
<circle cx="792.6" cy="398.9" r="5.7"/>
<circle cx="805.4" cy="395.4" r="5.7"/>
</g>
<g fill="#000">
<circle cx="562.4" cy="546.2" r="1.4"/>
<circle cx="575.2" cy="540.6" r="1.4"/>
<circle cx="588" cy="534" r="1.4"/>
<circle cx="600.8" cy="532.9" r="1.4"/>
<circle cx="613.6" cy="530.7" r="1.4"/>
<circle cx="626.4" cy="527.5" r="1.4"/>
<circle cx="639.1" cy="524.7" r="1.4"/>
<circle cx="651.9" cy="514.3" r="1.4"/>
<circle cx="664.7" cy="501" r="1.4"/>
<circle cx="677.5" cy="496" r="1.4"/>
<circle cx="690.3" cy="497.2" r="1.4"/>
<circle cx="703.1" cy="481.9" r="1.4"/>
<circle cx="715.9" cy="463.4" r="1.4"/>
<circle cx="728.7" cy="447" r="1.4"/>
<circle cx="741.5" cy="424.8" r="1.4"/>
<circle cx="754.2" cy="407.8" r="1.4"/>
<circle cx="767" cy="402.7" r="1.4"/>
<circle cx="779.8" cy="399.4" r="1.4"/>
<circle cx="792.6" cy="398.9" r="1.4"/>
<circle cx="805.4" cy="395.4" r="1.4"/>
</g>
<g clip-path="url(#pc)" fill="none" stroke-width="1" shape-rendering="crispEdges">
<path stroke="#ff0000" d="M217.3 473.4L217.3 492.8M217.3 495.8L219.6 490.9L217.3 492.8L215 490.9ZM217.7 459.6L217 479.2M216.9 482.2L219.4 477.4L217 479.2L214.8 477.2ZM219.9 445.8L215.4 465.5M214.7 468.5L218.1 464.1L215.4 465.5L213.5 463ZM216.9 412L217.6 430.8M217.7 433.7L219.7 428.9L217.6 430.8L215.3 429.1ZM216.8 405.4L217.7 423.8M217.8 426.6L219.7 421.9L217.7 423.8L215.4 422.1ZM216.6 398.4L217.8 417M217.9 419.9L219.8 415.1L217.8 417L215.5 415.3ZM216.4 390.6L217.9 410.9M218.2 414L220.2 408.7L217.9 410.9L215.4 409.1ZM216.3 384.2L218 403.7M218.3 406.7L220.1 401.6L218 403.7L215.6 402ZM216.1 376.8L218.2 397.2M218.5 400.3L220.4 395L218.2 397.2L215.6 395.5ZM216.1 371.1L218.2 389.5M218.5 392.3L220.1 387.4L218.2 389.5L215.8 387.9ZM215.9 364.2L218.3 382.7M218.6 385.5L220.2 380.6L218.3 382.7L215.9 381.1ZM215.7 356.6L218.5 376.4M218.9 379.4L220.5 374.1L218.5 376.4L215.9 374.7ZM217.3 350L217.3 369.3M217.3 372.3L219.5 367.4L217.3 369.3L215 367.4ZM248 530.6L239.1 546.1M237.7 548.4L241.8 545.6L239.1 546.1L238.2 543.5ZM249.5 509.5L238 525.8M236.3 528.3L241.1 525.5L238 525.8L237.2 522.9ZM241 377.8L244.3 396.5M244.8 399.3L246.1 394.3L244.3 396.5L241.8 395ZM240.6 371.3L244.6 389.4M245.2 392.1L246.3 387.1L244.6 389.4L242.1 388.1ZM239.8 363.4L245.1 383.3M245.9 386.3L246.9 380.7L245.1 383.3L242.3 381.9ZM232.2 298.1L250.7 296.8M253.6 296.6L248.8 294.7L250.7 296.8L249.1 299.1ZM273.8 564.5L264.5 580.6M263.1 583.1L267.3 580.1L264.5 580.6L263.5 578ZM273.8 557.7L264.5 573.7M263.1 576.1L267.3 573.2L264.5 573.7L263.6 571ZM274 550.5L264.4 567.1M262.9 569.6L267.3 566.6L264.4 567.1L263.4 564.4ZM273.6 544.3L264.7 559.8M263.3 562.1L267.4 559.3L264.7 559.8L263.7 557.2ZM273.5 537.5L264.7 552.8M263.4 555.2L267.4 552.4L264.7 552.8L263.8 550.3ZM274.3 529.3L264.1 546.9M262.6 549.6L267.2 546.4L264.1 546.9L263.1 544ZM273.7 523.5L264.6 539.3M263.2 541.7L267.3 538.8L264.6 539.3L263.7 536.7ZM273.9 516.4L264.5 532.7M263 535.2L267.3 532.2L264.5 532.7L263.5 530ZM274.4 508.6L264.1 526.5M262.5 529.2L267.2 525.9L264.1 526.5L263 523.5ZM273.7 503L264.6 518.7M263.2 521.1L267.3 518.2L264.6 518.7L263.6 516.1ZM268 411.1L268.8 431.5M268.9 434.6L271.1 429.4L268.8 431.5L266.3 429.6ZM267.5 405L269.2 424.1M269.4 427L271.2 422L269.2 424.1L266.8 422.4ZM301.8 572.9L288.4 586.3M286.3 588.4L291.2 586.6L288.4 586.3L288.1 583.4ZM301.6 566.2L288.5 579.4M286.5 581.4L291.3 579.6L288.5 579.4L288.2 576.5ZM300.6 482.1L289.2 498.3M287.5 500.8L292.2 498.1L289.2 498.3L288.4 495.4ZM298.4 475.2L290.8 491.5M289.6 494L293.5 490.8L290.8 491.5L289.6 489ZM293.7 384.4L294.3 403.5M294.4 406.5L296.5 401.6L294.3 403.5L292 401.7ZM293.6 376.8L294.3 397.2M294.5 400.3L296.7 395.1L294.3 397.2L291.9 395.3ZM293.7 371.3L294.3 389.4M294.4 392.1L296.4 387.5L294.3 389.4L292.1 387.7ZM294 343.1L294 362.5M294 365.4L296.3 360.6L294 362.5L291.8 360.6ZM294 335.8L294 356M294 359L296.4 354L294 356L291.7 354ZM294 328.7L294 349.2M294 352.3L296.4 347.2L294 349.2L291.6 347.2ZM294 321.9L294 342.3M294 345.4L296.4 340.3L294 342.3L291.7 340.3ZM327.1 573.1L314.1 586.2M312.1 588.1L316.9 586.4L314.1 586.2L313.9 583.4ZM321.2 441.5L318.4 461.5M318 464.6L321 459.9L318.4 461.5L316.4 459.2ZM319.6 411.9L319.6 430.9M319.6 433.8L321.8 429L319.6 430.9L317.4 429ZM319.6 405.4L319.6 423.8M319.6 426.6L321.8 422L319.6 423.8L317.5 422ZM319.6 397.4L319.6 417.8M319.6 420.9L322 415.8L319.6 417.8L317.2 415.8ZM318.5 384.5L320.5 403.5M320.8 406.4L322.5 401.4L320.5 403.5L318.1 401.8ZM318.1 363.8L320.8 382.9M321.2 385.9L322.7 380.8L320.8 382.9L318.3 381.4ZM318 356.7L320.8 376.3M321.2 379.3L322.8 374L320.8 376.3L318.2 374.7ZM319.6 308.2L319.6 328.6M319.6 331.7L322 326.6L319.6 328.6L317.2 326.6ZM319.6 302.6L319.6 320.8M319.6 323.6L321.7 319L319.6 320.8L317.5 319ZM319.6 296L319.6 313.8M319.6 316.5L321.7 312L319.6 313.8L317.5 312ZM352.6 450L339.8 462.4M337.8 464.3L342.5 462.7L339.8 462.4L339.6 459.7ZM349.5 441.1L342 457.1M340.9 459.5L344.6 456.4L342 457.1L340.9 454.6ZM347.5 432.5L343.5 451.5M342.9 454.3L346.1 450.1L343.5 451.5L341.7 449.1ZM344.8 414.9L345.5 434.7M345.6 437.7L347.7 432.6L345.5 434.7L343.1 432.8ZM345.2 398.9L345.2 416.7M345.2 419.4L347.3 414.9L345.2 416.7L343.1 414.9ZM345.2 390.9L345.2 410.7M345.2 413.7L347.5 408.7L345.2 410.7L342.9 408.7ZM344.8 356.7L345.5 376.3M345.6 379.3L347.7 374.3L345.5 376.3L343.1 374.4ZM381.5 576.7L362.9 583.5M360 584.6L365.5 585L362.9 583.5L363.9 580.7ZM378.9 448.8L364.8 463.3M362.7 465.5L367.9 463.5L364.8 463.3L364.5 460.2ZM377.6 442.5L365.8 456M364 458.1L368.5 456.1L365.8 456L365.4 453.3ZM378 434.2L365.5 450.2M363.6 452.7L368.6 450.1L365.5 450.2L364.8 447.2ZM374.6 426.2L368 444.2M367 446.9L370.8 443.2L368 444.2L366.6 441.7ZM370.8 377.8L370.8 396.5M370.8 399.3L373 394.6L370.8 396.5L368.6 394.6ZM370.8 282.2L370.8 300.1M370.8 302.8L372.9 298.3L370.8 300.1L368.7 298.3ZM406.7 576.9L388.8 583.4M386 584.4L391.3 584.9L388.8 583.4L389.8 580.7ZM403.1 448.9L391.4 463.3M389.7 465.4L394.3 463.2L391.4 463.3L390.9 460.5ZM402.3 441.2L392 457M390.5 459.4L394.9 456.7L392 457L391.2 454.3ZM401.2 433.7L392.8 450.6M391.5 453.2L395.6 449.9L392.8 450.6L391.7 447.9ZM400 426.7L393.7 443.8M392.7 446.4L396.3 442.9L393.7 443.8L392.3 441.4ZM398.9 419.6L394.5 437.2M393.8 439.8L397 436L394.5 437.2L392.9 434.9ZM397.8 412.6L395.3 430.4M394.9 433.2L397.6 429L395.3 430.4L393.5 428.4ZM397.3 405.5L395.7 423.7M395.5 426.5L398 422.1L395.7 423.7L393.7 421.7ZM389.1 345L401.7 361.1M403.6 363.5L402.3 358L401.7 361.1L398.6 361ZM389.5 338.6L401.5 353.9M403.3 356.2L402.1 351L401.5 353.9L398.5 353.8ZM389.1 331.2L401.8 347.4M403.7 349.9L402.4 344.3L401.8 347.4L398.6 347.3ZM432.2 576.5L414.4 583.7M411.7 584.8L417 585.1L414.4 583.7L415.3 580.9ZM430.5 464.8L415.7 475.3M413.5 476.9L418.4 476L415.7 475.3L415.9 472.6ZM429.4 456L416.5 469.9M414.5 472L419.4 470L416.5 469.9L416.1 467ZM427.8 447.1L417.7 464.6M416.1 467.2L420.7 464L417.7 464.6L416.6 461.7ZM425.6 440.4L419.3 457.6M418.3 460.2L421.9 456.6L419.3 457.6L417.9 455.2ZM424.3 432.6L420.3 451.4M419.6 454.3L422.9 450.1L420.3 451.4L418.4 449.1ZM422 390.7L422 410.8M422 413.9L424.3 408.8L422 410.8L419.6 408.8ZM422 384.8L422 403.3M422 406.1L424.1 401.4L422 403.3L419.8 401.4ZM415.3 351.1L426.9 364.9M428.6 367L427.3 362.2L426.9 364.9L424.1 364.9ZM414.6 343.4L427.4 358.7M429.4 361L427.9 355.7L427.4 358.7L424.3 358.7ZM414.7 336.7L427.3 351.7M429.2 354L427.8 348.8L427.3 351.7L424.3 351.7ZM418.9 281.2L424.2 300.9M425 303.9L426 298.3L424.2 300.9L421.4 299.5ZM455.8 469.4L441.4 483.8M439.2 486L444.5 484.1L441.4 483.8L441.2 480.7ZM455.4 463L441.7 476.7M439.7 478.8L444.7 476.9L441.7 476.7L441.5 473.7ZM439.8 338.8L453.3 353.8M455.3 356L453.7 350.7L453.3 353.8L450.2 353.9ZM482.3 576.3L466.4 583.8M463.9 584.9L468.8 584.9L466.4 583.8L467.1 581.2ZM482.9 569.2L465.9 577.1M463.4 578.3L468.5 578.3L465.9 577.1L466.7 574.4ZM481.6 478.6L466.9 489M464.6 490.6L469.5 489.7L466.9 489L467.1 486.2ZM481.4 462.6L467 477M464.8 479.2L470.1 477.3L467 477L466.8 473.9ZM467.4 351.2L477.3 368.4M478.9 371L478.4 365.6L477.3 368.4L474.3 367.9ZM467.6 344.7L477.2 361.3M478.7 363.9L478.2 358.6L477.2 361.3L474.3 360.8ZM473.1 316L473.1 334.8M473.1 337.6L475.3 332.9L473.1 334.8L470.9 332.9ZM473.1 308.2L473.1 328.7M473.1 331.8L475.5 326.6L473.1 328.7L470.7 326.6ZM472.2 282L473.8 300.2M474 303L475.8 298.3L473.8 300.2L471.5 298.6ZM506.2 572.3L493.2 586.7M491.2 588.9L496.2 586.8L493.2 586.7L492.8 583.8ZM506.6 565.1L492.9 580.2M490.9 582.5L496 580.3L492.9 580.2L492.5 577.1ZM506.4 558.4L493.1 573.2M491.1 575.4L496.1 573.3L493.1 573.2L492.7 570.2ZM506.3 551.6L493.1 566.3M491.1 568.5L496.1 566.4L493.1 566.3L492.7 563.3ZM507.7 520.1L492.1 529.9M489.7 531.4L494.8 530.8L492.1 529.9L492.5 527.1ZM508.5 512.8L491.5 523.4M488.9 525L494.4 524.4L491.5 523.4L491.9 520.4ZM507.8 506.3L492 516.2M489.6 517.7L494.7 517.1L492 516.2L492.4 513.4ZM508.5 499.1L491.5 509.7M489 511.3L494.4 510.6L491.5 509.7L492 506.6ZM498.7 411L498.7 431.6M498.7 434.7L501.1 429.6L498.7 431.6L496.3 429.6ZM498.7 405.5L498.7 423.7M498.7 426.5L500.8 421.9L498.7 423.7L496.6 421.9ZM498.7 399L498.7 416.6M498.7 419.3L500.8 414.9L498.7 416.6L496.6 414.9ZM498.7 392.1L498.7 409.8M498.7 412.5L500.8 408L498.7 409.8L496.6 408ZM498.7 384.5L498.7 403.5M498.7 406.4L500.9 401.6L498.7 403.5L496.5 401.6ZM493.5 378.4L502.5 396M503.9 398.7L503.7 393.2L502.5 396L499.6 395.3ZM493.5 371.5L502.5 389.2M503.9 391.9L503.7 386.4L502.5 389.2L499.6 388.5ZM493.5 351L502.5 368.6M503.9 371.2L503.7 365.8L502.5 368.6L499.6 367.9ZM530.7 571.5L519.6 587.4M517.9 589.8L522.5 587.1L519.6 587.4L518.8 584.5ZM530.9 564.3L519.4 580.7M517.7 583.2L522.5 580.5L519.4 580.7L518.6 577.8ZM530.7 557.7L519.5 573.7M517.8 576.1L522.5 573.4L519.5 573.7L518.8 570.8ZM531 552.5L519.4 568M517.6 570.3L522.3 567.8L519.4 568L518.7 565.1ZM528.3 446.2L521.3 465.3M520.3 468.2L524.3 464.2L521.3 465.3L519.8 462.6ZM527.7 439.5L521.8 458.2M520.9 461.1L524.6 457.1L521.8 458.2L520.2 455.7ZM526.9 433.5L522.4 450.7M521.7 453.4L524.8 449.6L522.4 450.7L520.8 448.5ZM526.6 425.9L522.6 444.4M522 447.3L525.2 443.1L522.6 444.4L520.8 442.2ZM524.3 418.6L524.3 437.9M524.3 440.8L526.5 436L524.3 437.9L522 436ZM524 412.6L524.5 430.4M524.6 433.2L526.5 428.6L524.5 430.4L522.4 428.7ZM523.7 405.6L524.7 423.6M524.8 426.4L526.7 421.7L524.7 423.6L522.5 422ZM523.4 397.3L525 417.9M525.2 421L527.2 415.6L525 417.9L522.4 416ZM523.1 391.4L525.1 410.3M525.4 413.2L527.1 408.2L525.1 410.3L522.7 408.7ZM522.8 384.1L525.4 403.7M525.8 406.7L527.4 401.5L525.4 403.7L522.8 402.1ZM522.5 377.1L525.6 397M526.1 400L527.6 394.7L525.6 397L523 395.4ZM522.2 370.3L525.8 390.1M526.4 393.1L527.8 387.7L525.8 390.1L523.2 388.6ZM521.9 363.7L526 383.1M526.7 386L527.9 380.7L526 383.1L523.4 381.6ZM521.8 357.6L526.1 375.6M526.8 378.4L527.8 373.3L526.1 375.6L523.6 374.4ZM521.5 350.6L526.4 368.8M527.1 371.6L528 366.5L526.4 368.8L523.8 367.6ZM521.4 281.7L526.4 300.4M527.2 303.3L528.1 298L526.4 300.4L523.7 299.2ZM555.6 571.5L545.7 587.4M544.1 589.8L548.5 587L545.7 587.4L544.8 584.7ZM555.5 564.9L545.7 580.3M544.3 582.6L548.5 579.9L545.7 580.3L544.9 577.6ZM555.5 558.2L545.7 573.3M544.3 575.6L548.5 573L545.7 573.3L544.9 570.7ZM555.4 551.6L545.8 566.3M544.3 568.6L548.5 566L545.8 566.3L545 563.7ZM556 544L545.4 560M543.8 562.4L548.3 559.6L545.4 560L544.6 557.2ZM556.4 536.7L545.1 553.5M543.4 556L548.2 553.1L545.1 553.5L544.2 550.5ZM559.1 516.7L543.1 524.1M540.7 525.2L545.6 525.2L543.1 524.1L543.8 521.5ZM550.2 474.6L549.6 492M549.5 494.6L551.7 490.3L549.6 492L547.7 490.2ZM553.2 433.2L547.4 451M546.5 453.7L550.1 449.9L547.4 451L545.9 448.6ZM553 426.9L547.6 443.7M546.7 446.3L550.1 442.7L547.6 443.7L546.1 441.4ZM549.9 404.4L549.9 424.5M549.9 427.6L552.2 422.5L549.9 424.5L547.5 422.5ZM549.9 398L549.9 417.4M549.9 420.3L552.1 415.4L549.9 417.4L547.6 415.4ZM549.9 391.5L549.9 410.2M549.9 413L552.1 408.3L549.9 410.2L547.7 408.3ZM548.4 370.9L551 389.7M551.4 392.5L552.9 387.5L551 389.7L548.5 388.1ZM548.1 363.4L551.2 383.3M551.7 386.3L553.2 380.9L551.2 383.3L548.6 381.7ZM547.8 356.5L551.4 376.5M551.9 379.5L553.4 374.1L551.4 376.5L548.7 374.9ZM547.7 350.1L551.5 369.2M552 372.2L553.3 366.9L551.5 369.2L548.8 367.8ZM547.7 344.2L551.4 361.6M552 364.3L553.1 359.5L551.4 361.6L549 360.4ZM548.9 295.4L550.6 314.2M550.8 317.1L552.6 312.2L550.6 314.2L548.2 312.5ZM546.8 281.2L552.1 300.9M552.9 303.8L553.9 298.3L552.1 300.9L549.3 299.5ZM583.7 531.2L569.4 545.6M567.2 547.8L572.5 545.8L569.4 545.6L569.1 542.5ZM585 505.6L568.4 516.8M565.9 518.5L571.4 517.6L568.4 516.8L568.8 513.7ZM582.8 492.9L570.1 504.7M568.1 506.5L572.7 505L570.1 504.7L569.9 502.1ZM575.5 476.7L575.5 494M575.5 496.7L577.5 492.3L575.5 494L573.4 492.3ZM575.9 418.4L575.2 438M575.1 441L577.5 436.2L575.2 438L572.9 436ZM575.7 411.2L575.3 431.4M575.2 434.5L577.7 429.5L575.3 431.4L572.9 429.4ZM575.6 404.4L575.4 424.5M575.3 427.6L577.7 422.6L575.4 424.5L573 422.5ZM575.5 398.2L575.5 417.2M575.5 420.1L577.7 415.3L575.5 417.2L573.2 415.3ZM575.3 392.1L575.5 409.8M575.6 412.5L577.6 408L575.5 409.8L573.5 408.1ZM575.2 383.8L575.7 404M575.7 407.1L578 402L575.7 404L573.2 402.1ZM575.1 377.7L575.7 396.5M575.8 399.4L577.9 394.6L575.7 396.5L573.5 394.8ZM575.5 288.7L575.5 307.3M575.5 310.1L577.6 305.4L575.5 307.3L573.3 305.4ZM593.3 577.3L606.7 593.2M608.8 595.7L607.3 590.1L606.7 593.2L603.5 593.2ZM610.1 518.1L594.4 525.4M592 526.6L596.8 526.6L594.4 525.4L595.1 522.9ZM607.1 498.4L596.6 513.8M595 516.1L599.4 513.5L596.6 513.8L595.8 511ZM600.7 467.9L601.3 486.1M601.4 488.9L603.4 484.3L601.3 486.1L599.1 484.4ZM598.4 373L603 391.7M603.7 394.5L604.7 389.3L603 391.7L600.4 390.4ZM601 350L601 369.3M601 372.2L603.3 367.4L601 369.3L598.8 367.4ZM601 343.2L601 362.4M601 365.4L603.3 360.5L601 362.4L598.8 360.5ZM636.1 488.2L619.6 499.8M617.1 501.6L622.6 500.6L619.6 499.8L619.9 496.7ZM636.3 481.2L619.5 488.3M617 489.4L622 489.6L619.5 488.3L620.3 485.6ZM623 456.1L629.3 472.3M630.2 474.7L630.5 469.9L629.3 472.3L626.8 471.4ZM629.3 343.9L624.6 364.2M623.9 367.3L627.5 362.8L624.6 364.2L622.7 361.7ZM660.9 499.7L645.8 509.2M643.5 510.6L648.4 510L645.8 509.2L646.2 506.5ZM662.7 453.2L644.5 458.9M641.7 459.8L646.9 460.5L644.5 458.9L645.6 456.2ZM653.9 433.1L651 451.1M650.6 453.8L653.4 449.6L651 451.1L649.2 449ZM658.1 392L647.9 409.8M646.3 412.5L650.9 409.3L647.9 409.8L646.8 406.9ZM652.6 377.9L651.9 396.4M651.8 399.3L654.2 394.7L651.9 396.4L649.8 394.5ZM652.2 309.3L652.2 326.6M652.2 329.3L654.2 324.9L652.2 326.6L650.2 324.9ZM683 399.3L673.9 416.4M672.5 419L676.8 415.8L673.9 416.4L672.8 413.7ZM709.1 455.2L699.2 470.5M697.7 472.8L701.9 470.1L699.2 470.5L698.4 467.8ZM709.5 447.7L698.9 464.1M697.2 466.6L701.8 463.7L698.9 464.1L698 461.3ZM709 441.6L699.2 456.7M697.7 459L701.9 456.4L699.2 456.7L698.4 454.1ZM709.8 406.8L698.6 422.8M696.9 425.2L701.6 422.5L698.6 422.8L697.9 419.9ZM709.6 400.3L698.8 415.6M697.2 418L701.7 415.4L698.8 415.6L698.1 412.9ZM708.8 386L699.4 371.4M697.9 369.2L698.6 374L699.4 371.4L702 371.7ZM732.5 502.2L726.3 519.3M725.4 521.9L728.9 518.3L726.3 519.3L724.9 516.9ZM732.7 494.8L726.2 512.8M725.2 515.5L728.9 511.8L726.2 512.8L724.7 510.3ZM732.4 488.8L726.4 505.3M725.5 507.9L728.9 504.4L726.4 505.3L725.1 503ZM732.8 481L726.1 499.2M725.1 502L728.9 498.2L726.1 499.2L724.7 496.6ZM732.8 474L726.1 492.4M725.1 495.2L728.9 491.4L726.1 492.4L724.6 489.8ZM732.8 467.2L726.1 485.5M725.1 488.2L728.9 484.4L726.1 485.5L724.7 482.9ZM732.6 460.8L726.3 478.3M725.3 480.9L728.9 477.3L726.3 478.3L724.9 475.8ZM733 452.9L726 472.2M724.9 475.1L728.9 471.1L726 472.2L724.4 469.5ZM732.7 446.8L726.2 464.8M725.2 467.5L728.9 463.8L726.2 464.8L724.7 462.2ZM732.8 439.8L726.2 458M725.1 460.8L728.9 457L726.2 458L724.7 455.4ZM758.3 436.7L751.8 454.4M750.8 457.1L754.5 453.4L751.8 454.4L750.4 451.9ZM758 430.5L752 447M751.1 449.5L754.5 446.1L752 447L750.6 444.7ZM758.5 422.3L751.6 441.1M750.6 444L754.5 440.1L751.6 441.1L750.1 438.5ZM758.5 415.4L751.6 434.3M750.6 437.2L754.5 433.2L751.6 434.3L750.1 431.6ZM758.2 409.3L751.8 426.9M750.8 429.6L754.5 425.9L751.8 426.9L750.4 424.4ZM758.3 402.4L751.8 420.1M750.8 422.8L754.5 419.1L751.8 420.1L750.4 417.6ZM785 487.8L776.5 506M775.2 508.8L779.5 505.2L776.5 506L775.2 503.3ZM784.9 481.1L776.6 499.1M775.3 501.8L779.5 498.3L776.6 499.1L775.3 496.3ZM784.8 474.6L776.7 492M775.5 494.6L779.5 491.2L776.7 492L775.5 489.3ZM784.6 468.2L776.8 484.8M775.7 487.3L779.5 484.1L776.8 484.8L775.7 482.2ZM785 460.5L776.6 478.5M775.3 481.3L779.5 477.7L776.6 478.5L775.3 475.8ZM784.3 453.8L777.1 471.6M776 474.3L779.9 470.7L777.1 471.6L775.7 469ZM783.6 427.1L777.6 443.6M776.7 446.1L780.1 442.7L777.6 443.6L776.2 441.3ZM783.7 419.8L777.5 437M776.5 439.7L780.1 436.1L777.5 437L776.1 434.6ZM784.1 412L777.2 430.9M776.2 433.7L780.1 429.8L777.2 430.9L775.7 428.2ZM784.2 404.8L777.1 424.2M776.1 427.2L780.1 423.1L777.1 424.2L775.6 421.5ZM783.8 399L777.4 416.6M776.4 419.3L780.1 415.6L777.4 416.6L776 414.1ZM810.1 482.1L802.5 498.4M801.3 500.9L805.1 497.7L802.5 498.4L801.3 495.9ZM810.3 474.8L802.3 491.8M801.1 494.4L805.1 491.1L802.3 491.8L801.1 489.2ZM810.6 467.3L802.1 485.4M800.8 488.2L805.1 484.6L802.1 485.4L800.8 482.7ZM810.1 461.5L802.5 477.8M801.4 480.2L805.1 477L802.5 477.8L801.4 475.3ZM810.7 453.3L802 471.9M800.7 474.7L805.1 471.1L802 471.9L800.7 469.1ZM810.6 446.7L802.1 464.9M800.8 467.6L805.1 464.1L802.1 464.9L800.8 462.1ZM810.7 439.6L802 458.2M800.7 461L805.1 457.4L802 458.2L800.7 455.4ZM806.1 424.8L805.4 445.3M805.3 448.4L807.9 443.3L805.4 445.3L803.1 443.2ZM809.4 419.6L803 437.2M802 439.8L805.7 436.2L803 437.2L801.6 434.7ZM809.4 392.2L803 409.7M802 412.3L805.7 408.7L803 409.7L801.6 407.2Z"/>
<path stroke="#000000" d="M217.3 465.2L217.3 486.9M217.3 490.2L219.8 484.8L217.3 486.9L214.8 484.8ZM217.3 342.3L217.3 363.1M217.3 366.3L219.7 361L217.3 363.1L214.9 361ZM246.7 331.4L240 352M239 355.2L243.1 350.8L240 352L238.3 349.2ZM224.8 317.1L256.1 322.1M260.9 322.8L253.6 317.9L256.1 322.1L252.5 325.2ZM233.3 340.4L249.9 281.1M252.4 272L241.3 285L249.9 281.1L255.2 288.9ZM264.2 395L271.6 413.6M272.8 416.4L273.1 410.9L271.6 413.6L268.7 412.6ZM264.2 388.2L271.6 406.7M272.8 409.5L273.1 404L271.6 406.7L268.7 405.7ZM264.2 381.3L271.6 399.8M272.8 402.7L273.1 397.1L271.6 399.8L268.7 398.9ZM268.9 354L268.1 378.3M268 382L271 376L268.1 378.3L265.3 375.8ZM269.4 325.2L267.7 351.8M267.5 355.9L271 349.4L267.7 351.8L264.8 349ZM268.1 319.8L268.7 343.9M268.8 347.6L271.5 341.5L268.7 343.9L265.8 341.6ZM267.4 311.2L269.2 338.4M269.5 342.5L272.2 335.5L269.2 338.4L265.9 335.9ZM268.5 305.6L268.4 330.5M268.4 334.3L271.3 328.1L268.4 330.5L265.5 328ZM268.4 295.9L268.5 325.8M268.6 330.3L272 322.8L268.5 325.8L265 322.9ZM265.8 291.5L270.4 317.1M271.1 321L273 314L270.4 317.1L267 315.1ZM266.4 282.7L270 311.7M270.5 316.1L273 308.4L270 311.7L266.2 309.2ZM268.5 274.9L268.5 300.1M268.5 303.9L271.4 297.6L268.5 300.1L265.5 297.6ZM304.4 558.2L286.4 573.3M283.7 575.6L290 573.9L286.4 573.3L286.4 569.7ZM304.4 551.4L286.4 566.4M283.7 568.7L290 567.1L286.4 566.4L286.4 562.9ZM304.4 544.5L286.4 559.6M283.7 561.9L290 560.2L286.4 559.6L286.4 556ZM304.4 537.7L286.4 552.7M283.7 555L290 553.3L286.4 552.7L286.4 549.1ZM304.4 530.8L286.4 545.9M283.7 548.2L290 546.5L286.4 545.9L286.4 542.3ZM304.4 523.9L286.4 539M283.7 541.3L290 539.6L286.4 539L286.4 535.4ZM304.4 517.1L286.4 532.1M283.7 534.4L290 532.8L286.4 532.1L286.4 528.6ZM304.4 510.2L286.4 525.3M283.7 527.6L290 525.9L286.4 525.3L286.4 521.7ZM304.4 503.4L286.4 518.4M283.7 520.7L290 519L286.4 518.4L286.4 514.8ZM304.4 496.5L286.4 511.6M283.7 513.9L290 512.2L286.4 511.6L286.4 508ZM304.4 489.6L286.4 504.7M283.7 507L290 505.3L286.4 504.7L286.4 501.1ZM292.9 395.8L294.9 419M295.2 422.5L297.4 416.5L294.9 419L292 416.9ZM293.4 387.1L294.5 413.5M294.7 417.5L297.5 410.8L294.5 413.5L291.3 411ZM291.6 322.6L295.8 346.6M296.5 350.2L298.2 343.7L295.8 346.6L292.6 344.7ZM289.9 316.1L297.1 346.7M298.2 351.3L300 342.8L297.1 346.7L292.8 344.5ZM291.9 310.1L295.6 339.1M296.2 343.5L298.6 335.8L295.6 339.1L291.9 336.7ZM292.3 304.9L295.3 331M295.8 335L298.1 328.1L295.3 331L292 328.8ZM290.4 297L296.7 325M297.7 329.2L299.4 321.5L296.7 325L292.8 323ZM290.5 289.4L296.7 318.6M297.6 323L299.5 315L296.7 318.6L292.7 316.5ZM291 283.8L296.3 310.8M297.1 314.9L298.9 307.5L296.3 310.8L292.6 308.8ZM290.9 274.6L296.4 305.7M297.2 310.4L299.5 302L296.4 305.7L292.2 303.3ZM292.6 270L295.1 297.2M295.5 301.3L298.1 294.2L295.1 297.2L291.7 294.8ZM332.3 564.9L310.3 580.3M306.9 582.7L314.3 581.4L310.3 580.3L310.6 576.2ZM332.3 558L310.3 573.5M306.9 575.8L314.3 574.5L310.3 573.5L310.6 569.4ZM332.3 551.2L310.3 566.6M306.9 569L314.3 567.7L310.3 566.6L310.6 562.5ZM332.3 544.3L310.3 559.7M306.9 562.1L314.3 560.8L310.3 559.7L310.6 555.6ZM332.3 537.4L310.3 552.9M306.9 555.2L314.3 553.9L310.3 552.9L310.6 548.8ZM332.3 530.6L310.3 546M306.9 548.4L314.3 547.1L310.3 546L310.6 541.9ZM332.3 523.7L310.3 539.2M306.9 541.5L314.3 540.2L310.3 539.2L310.6 535.1ZM332.3 516.9L310.3 532.3M306.9 534.7L314.3 533.4L310.3 532.3L310.6 528.2ZM332.3 510L310.3 525.4M306.9 527.8L314.3 526.5L310.3 525.4L310.6 521.3ZM332.3 503.1L310.3 518.6M306.9 520.9L314.3 519.6L310.3 518.6L310.6 514.5ZM332.3 496.3L310.3 511.7M306.9 514.1L314.3 512.8L310.3 511.7L310.6 507.6ZM332.3 489.4L310.3 504.9M306.9 507.2L314.3 505.9L310.3 504.9L310.6 500.8ZM332.3 482.6L310.3 498M306.9 500.4L314.3 499.1L310.3 498L310.6 493.9ZM332.3 475.7L310.3 491.1M306.9 493.5L314.3 492.2L310.3 491.1L310.6 487ZM331.1 468.8L311.2 484.3M308.2 486.7L315 485.1L311.2 484.3L311.4 480.5ZM329.3 462.2L312.5 477.3M310 479.6L315.9 477.8L312.5 477.3L312.4 473.8ZM327.2 455.3L314.1 470.4M312.1 472.7L317.1 470.5L314.1 470.4L313.6 467.4ZM320.8 429.3L318.8 453.9M318.5 457.6L321.9 451.7L318.8 453.9L316.1 451.2ZM320.5 423.9L319 445.9M318.7 449.3L321.7 443.9L319 445.9L316.5 443.6ZM318.9 416.2L320.1 439.7M320.3 443.2L322.7 437.2L320.1 439.7L317.3 437.5ZM316.7 285.3L321.8 309.7M322.6 313.4L324.1 306.7L321.8 309.7L318.4 307.9ZM318.1 277.3L320.8 303.7M321.2 307.8L323.6 300.8L320.8 303.7L317.4 301.5ZM356.5 573.3L336.9 586.1M333.9 588L340.3 587.1L336.9 586.1L337.3 582.5ZM356.5 566.5L336.9 579.2M333.9 581.1L340.3 580.2L336.9 579.2L337.3 575.6ZM356.6 559.6L336.9 572.3M333.9 574.2L340.3 573.4L336.9 572.3L337.3 568.7ZM356.6 552.8L336.8 565.4M333.8 567.3L340.3 566.5L336.8 565.4L337.3 561.9ZM356.6 545.9L336.8 558.5M333.8 560.5L340.3 559.6L336.8 558.5L337.3 555ZM356.6 539.1L336.8 551.7M333.8 553.6L340.2 552.7L336.8 551.7L337.3 548.1ZM356.6 532.3L336.8 544.8M333.8 546.7L340.2 545.9L336.8 544.8L337.3 541.2ZM356.6 525.4L336.8 537.9M333.8 539.8L340.2 539L336.8 537.9L337.3 534.4ZM356.6 518.6L336.8 531M333.8 532.9L340.2 532.1L336.8 531L337.3 527.5ZM356.7 511.8L336.8 524.2M333.8 526L340.2 525.3L336.8 524.2L337.3 520.6ZM356.7 504.9L336.8 517.3M333.7 519.2L340.2 518.4L336.8 517.3L337.3 513.7ZM356.7 498.1L336.8 510.4M333.7 512.3L340.2 511.5L336.8 510.4L337.3 506.9ZM356.7 491.2L336.7 503.5M333.7 505.4L340.1 504.6L336.7 503.5L337.3 500ZM356.7 484.4L336.7 496.6M333.7 498.5L340.1 497.8L336.7 496.6L337.3 493.1ZM356.7 477.6L336.7 489.8M333.7 491.6L340.1 490.9L336.7 489.8L337.3 486.2ZM356.8 470.7L336.7 482.9M333.7 484.7L340.1 484L336.7 482.9L337.3 479.4ZM356.8 463.9L336.7 476M333.7 477.9L340.1 477.2L336.7 476L337.3 472.5ZM356.8 457.1L336.7 469.1M333.6 471L340.1 470.3L336.7 469.1L337.3 465.6ZM345.6 424.2L344.9 445.7M344.8 449L347.5 443.7L344.9 445.7L342.5 443.5ZM346.3 416.3L344.4 439.6M344.1 443.2L347.3 437.6L344.4 439.6L341.8 437.1ZM345.9 410.3L344.7 432.1M344.5 435.5L347.4 430.1L344.7 432.1L342.2 429.8ZM342.5 382.3L347.2 405.1M347.9 408.6L349.4 402.3L347.2 405.1L344.1 403.4ZM342 373.5L347.6 399.6M348.5 403.6L350.1 396.4L347.6 399.6L344 397.7ZM343.6 369L346.4 391M346.8 394.4L348.7 388.5L346.4 391L343.5 389.2ZM342 361.2L347.6 384.9M348.4 388.5L349.8 381.9L347.6 384.9L344.3 383.2ZM345.7 348.1L344.9 370.7M344.8 374.1L347.6 368.6L344.9 370.7L342.3 368.4ZM345.2 290.3L345.2 312M345.2 315.3L347.7 309.9L345.2 312L342.7 309.9ZM345.6 282.8L344.9 304.5M344.8 307.8L347.5 302.4L344.9 304.5L342.4 302.2ZM382.9 567.9L361.9 578.1M358.7 579.7L365.1 579.6L361.9 578.1L362.7 574.7ZM382.9 560.9L361.9 571.3M358.7 572.9L365.2 572.7L361.9 571.3L362.7 567.8ZM382.9 554L361.9 564.5M358.7 566.1L365.2 565.9L361.9 564.5L362.7 561ZM382.8 547.1L361.9 557.7M358.7 559.3L365.2 559.1L361.9 557.7L362.7 554.2ZM382.8 540.2L361.9 550.9M358.8 552.5L365.2 552.2L361.9 550.9L362.8 547.4ZM382.8 533.3L362 544M358.8 545.7L365.3 545.4L362 544L362.8 540.5ZM382.8 526.4L362 537.2M358.8 538.9L365.3 538.6L362 537.2L362.8 533.7ZM382.7 519.5L362 530.4M358.8 532L365.3 531.7L362 530.4L362.8 526.9ZM382.7 512.6L362 523.6M358.9 525.2L365.3 524.9L362 523.6L362.8 520.1ZM382.7 505.7L362 516.7M358.9 518.4L365.4 518.1L362 516.7L362.8 513.2ZM382.7 498.7L362.1 509.9M358.9 511.6L365.4 511.2L362.1 509.9L362.8 506.4ZM382.6 491.8L362.1 503.1M359 504.8L365.4 504.4L362.1 503.1L362.8 499.6ZM382.6 484.9L362.1 496.3M359 498L365.4 497.6L362.1 496.3L362.8 492.8ZM382.6 478L362.1 489.5M359 491.2L365.5 490.7L362.1 489.5L362.8 485.9ZM382.5 471.1L362.1 482.6M359 484.4L365.5 483.9L362.1 482.6L362.8 479.1ZM382.5 464.2L362.2 475.8M359.1 477.6L365.5 477L362.2 475.8L362.8 472.3ZM382.5 457.3L362.2 469M359.1 470.8L365.6 470.2L362.2 469L362.8 465.5ZM371.2 414L370.5 441.3M370.4 445.5L373.7 438.7L370.5 441.3L367.4 438.5ZM371.6 410.1L370.2 432.3M370 435.6L372.9 430.2L370.2 432.3L367.8 429.9ZM370.1 403.2L371.3 425.4M371.5 428.8L373.8 423.1L371.3 425.4L368.6 423.4ZM371.5 394L370.3 420.3M370.1 424.3L373.5 417.8L370.3 420.3L367.3 417.5ZM371.1 387.4L370.6 413.2M370.5 417.2L373.7 410.7L370.6 413.2L367.6 410.6ZM369.8 380.6L371.5 406.4M371.8 410.3L374.3 403.6L371.5 406.4L368.3 404ZM408.3 567.4L387.6 578.4M384.5 580.1L390.9 579.8L387.6 578.4L388.4 574.9ZM408.3 560.6L387.6 571.6M384.5 573.3L390.9 572.9L387.6 571.6L388.4 568.1ZM408.3 553.7L387.6 564.8M384.5 566.4L391 566.1L387.6 564.8L388.4 561.3ZM408.3 546.8L387.6 557.9M384.5 559.6L391 559.2L387.6 557.9L388.4 554.4ZM408.2 539.9L387.6 551.1M384.5 552.8L391 552.4L387.6 551.1L388.4 547.6ZM408.2 533L387.7 544.2M384.5 545.9L391 545.5L387.7 544.2L388.4 540.7ZM408.2 526.1L387.7 537.4M384.5 539.1L391 538.7L387.7 537.4L388.4 533.9ZM408.2 519.2L387.7 530.6M384.6 532.3L391 531.8L387.7 530.6L388.4 527ZM408.2 512.4L387.7 523.7M384.6 525.4L391 525L387.7 523.7L388.4 520.2ZM408.2 505.5L387.7 516.9M384.6 518.6L391 518.1L387.7 516.9L388.4 513.4ZM408.2 498.6L387.7 510M384.6 511.8L391.1 511.3L387.7 510L388.4 506.5ZM408.1 491.7L387.7 503.2M384.6 504.9L391.1 504.4L387.7 503.2L388.4 499.7ZM408.1 484.8L387.7 496.4M384.6 498.1L391.1 497.6L387.7 496.4L388.4 492.8ZM408.1 477.9L387.7 489.5M384.6 491.3L391.1 490.8L387.7 489.5L388.4 486ZM408.1 471L387.7 482.7M384.7 484.4L391.1 483.9L387.7 482.7L388.4 479.1ZM408.1 464.2L387.8 475.8M384.7 477.6L391.1 477.1L387.8 475.8L388.4 472.3ZM408.1 457.3L387.8 469M384.7 470.8L391.1 470.2L387.8 469L388.4 465.5ZM396.4 395.1L396.4 419.4M396.4 423.1L399.2 417L396.4 419.4L393.5 417ZM396.9 289.2L396 315.2M395.9 319.2L399.1 312.8L396 315.2L393 312.5ZM396.4 284.3L396.4 306.9M396.4 310.3L399 304.7L396.4 306.9L393.7 304.7ZM434.3 567.2L412.9 578.6M409.6 580.4L416.3 580L412.9 578.6L413.6 575ZM434.3 560.3L412.9 571.8M409.6 573.5L416.3 573.1L412.9 571.8L413.6 568.1ZM434.3 553.5L412.9 564.9M409.6 566.6L416.3 566.3L412.9 564.9L413.6 561.3ZM434.3 546.6L412.9 558M409.6 559.8L416.3 559.4L412.9 558L413.6 554.4ZM434.3 539.8L412.9 551.2M409.6 552.9L416.3 552.6L412.9 551.2L413.6 547.5ZM434.3 532.9L412.9 544.3M409.6 546.1L416.3 545.7L412.9 544.3L413.6 540.7ZM434.3 526L412.9 537.5M409.6 539.2L416.3 538.8L412.9 537.5L413.6 533.8ZM434.3 519.2L412.9 530.6M409.6 532.3L416.3 532L412.9 530.6L413.6 527ZM434.3 512.3L412.9 523.7M409.6 525.5L416.3 525.1L412.9 523.7L413.6 520.1ZM434.3 505.5L412.9 516.9M409.6 518.6L416.3 518.3L412.9 516.9L413.6 513.2ZM434.3 498.6L412.9 510M409.6 511.8L416.3 511.4L412.9 510L413.6 506.4ZM434.3 491.7L412.9 503.2M409.6 504.9L416.3 504.5L412.9 503.2L413.6 499.5ZM434.3 484.9L412.9 496.3M409.6 498L416.3 497.7L412.9 496.3L413.6 492.7ZM434.3 478L412.9 489.4M409.6 491.2L416.3 490.8L412.9 489.4L413.6 485.8ZM434.3 471.2L412.9 482.6M409.6 484.3L416.3 484L412.9 482.6L413.6 478.9ZM422.7 423.3L421.4 446.3M421.3 449.8L424.2 444.2L421.4 446.3L418.9 443.9ZM421.9 414.8L422 440.7M422 444.7L425 438.2L422 440.7L418.9 438.2ZM422 409.3L421.9 432.8M421.9 436.4L424.7 430.5L421.9 432.8L419.2 430.5ZM421.7 402.3L422.1 426.1M422.2 429.7L424.9 423.7L422.1 426.1L419.3 423.8ZM422.9 396.2L421.3 418.6M421 422.1L424.1 416.6L421.3 418.6L418.8 416.2ZM458.5 572.7L439.5 586.5M436.6 588.6L443 587.3L439.5 586.5L439.8 582.9ZM458.6 566L439.4 579.5M436.5 581.6L442.9 580.4L439.4 579.5L439.7 575.9ZM458.7 559.3L439.3 572.5M436.4 574.6L442.8 573.5L439.3 572.5L439.7 569ZM458.8 552.6L439.3 565.6M436.3 567.5L442.7 566.6L439.3 565.6L439.7 562ZM458.9 545.9L439.2 558.6M436.2 560.5L442.6 559.6L439.2 558.6L439.6 555ZM459 539.2L439.1 551.6M436.1 553.5L442.5 552.7L439.1 551.6L439.6 548.1ZM459.1 532.5L439.1 544.6M436 546.5L442.4 545.8L439.1 544.6L439.6 541.1ZM459.2 525.8L439 537.7M435.9 539.5L442.4 538.9L439 537.7L439.6 534.1ZM459.3 519.1L438.9 530.7M435.8 532.5L442.3 531.9L438.9 530.7L439.6 527.2ZM459.4 512.4L438.8 523.7M435.7 525.4L442.2 525L438.8 523.7L439.5 520.2ZM459.4 505.7L438.8 516.7M435.6 518.4L442.1 518.1L438.8 516.7L439.5 513.2ZM459.5 499L438.7 509.7M435.6 511.4L442 511.1L438.7 509.7L439.5 506.3ZM459.6 492.3L438.7 502.8M435.5 504.4L441.9 504.2L438.7 502.8L439.5 499.3ZM459.7 485.6L438.6 495.8M435.4 497.3L441.9 497.2L438.6 495.8L439.5 492.3ZM459.8 478.9L438.5 488.8M435.3 490.3L441.8 490.3L438.5 488.8L439.5 485.3ZM446.5 428.3L448.3 454.5M448.6 458.5L451.2 451.8L448.3 454.5L445.1 452.2ZM448 422.5L447.2 447M447.1 450.7L450.2 444.6L447.2 447L444.4 444.5ZM447.5 415.6L447.6 440.1M447.6 443.9L450.4 437.7L447.6 440.1L444.7 437.7ZM447.7 409.9L447.4 432.4M447.3 435.8L450.1 430.2L447.4 432.4L444.8 430.1ZM437.2 331.9L455.2 346.9M457.9 349.2L455.1 343.3L455.2 346.9L451.6 347.5ZM452.3 313.7L444 336.5M442.8 340L447.5 335.2L444 336.5L442.2 333.3ZM440.2 275.1L453 310.1M454.9 315.5L455.8 305.2L453 310.1L447.6 308.2ZM485.5 560.3L464 571.8M460.8 573.5L467.5 573.1L464 571.8L464.8 568.1ZM485.5 553.5L464 564.9M460.7 566.6L467.5 566.3L464 564.9L464.8 561.2ZM485.5 546.7L464 558M460.7 559.7L467.4 559.4L464 558L464.8 554.4ZM485.5 539.9L464 551.1M460.7 552.8L467.4 552.5L464 551.1L464.8 547.5ZM485.6 533.1L464 544.2M460.7 545.9L467.4 545.6L464 544.2L464.8 540.6ZM485.6 526.2L464 537.3M460.7 539L467.4 538.8L464 537.3L464.8 533.7ZM485.6 519.4L463.9 530.4M460.6 532.1L467.4 531.9L463.9 530.4L464.8 526.8ZM485.6 512.6L463.9 523.5M460.6 525.2L467.3 525L463.9 523.5L464.8 519.9ZM485.6 505.8L463.9 516.6M460.6 518.3L467.3 518.1L463.9 516.6L464.8 513ZM485.7 499L463.9 509.8M460.6 511.4L467.3 511.2L463.9 509.8L464.8 506.1ZM485.7 492.1L463.9 502.9M460.6 504.5L467.3 504.4L463.9 502.9L464.8 499.3ZM485.7 485.3L463.9 496M460.5 497.6L467.3 497.5L463.9 496L464.8 492.4ZM480.3 467.5L467.8 485.3M466 488L471.2 485L467.8 485.3L467 482.1ZM472.4 417L473.7 439.1M473.9 442.4L476.1 436.7L473.7 439.1L471 437ZM472.5 410.2L473.6 432.2M473.8 435.5L476.1 429.9L473.6 432.2L470.9 430.2ZM473.5 401.1L472.8 427M472.8 430.9L475.9 424.5L472.8 427L469.9 424.3ZM472.4 395.7L473.7 419M473.9 422.6L476.3 416.6L473.7 419L470.8 416.9ZM464.8 336.8L479.2 355.2M481.4 358L480 351.7L479.2 355.2L475.7 355.1ZM464.8 329.9L479.2 348.4M481.4 351.2L480 344.9L479.2 348.4L475.7 348.2ZM464.8 323L479.2 341.5M481.4 344.3L480 338L479.2 341.5L475.7 341.4ZM473.6 292.2L472.8 316.5M472.6 320.2L475.7 314.2L472.8 316.5L470 314ZM474.3 276.9L472.3 315.9M471.9 321.8L477 312.3L472.3 315.9L467.9 311.8ZM509.8 545.5L490.6 558.9M487.6 560.9L494 559.8L490.6 558.9L490.9 555.3ZM509.8 538.6L490.6 552M487.6 554.1L494 553L490.6 552L490.9 548.5ZM509.8 531.7L490.6 545.2M487.6 547.2L494 546.1L490.6 545.2L490.9 541.6ZM509.8 524.9L490.6 538.3M487.6 540.4L494 539.2L490.6 538.3L490.9 534.8ZM508.3 490.3L491.7 504.2M489.1 506.4L494.9 504.8L491.7 504.2L491.7 500.9ZM510 459.9L490.4 467M487.4 468.1L493.2 468.6L490.4 467L491.5 464.1ZM476.4 325.2L515.1 362.6M521 368.2L515.7 354.4L515.1 362.6L506.9 363.4ZM500.7 281.8L497.3 320.7M496.7 326.6L502.1 317.2L497.3 320.7L493.1 316.4ZM499.9 283.9L497.8 307.2M497.5 310.8L500.8 305.2L497.8 307.2L495.3 304.7ZM535.2 547.1L516.3 562.4M513.4 564.8L519.9 563.1L516.3 562.4L516.4 558.7ZM535.3 540.5L516.2 555.4M513.3 557.7L519.8 556.2L516.2 555.4L516.3 551.7ZM535.5 533.8L516.1 548.4M513.1 550.6L519.7 549.3L516.1 548.4L516.3 544.7ZM535.6 527.1L516 541.4M513 543.6L519.6 542.3L516 541.4L516.2 537.7ZM535.8 520.5L515.9 534.4M512.8 536.5L519.4 535.4L515.9 534.4L516.2 530.7ZM535.8 513.6L515.9 527.6M512.8 529.7L519.4 528.5L515.9 527.6L516.2 523.9ZM515.5 488.5L530.8 506.8M533.1 509.5L531.4 503.2L530.8 506.8L527.1 506.7ZM515.7 343.2L530.6 362.4M532.9 365.3L531.4 358.7L530.6 362.4L526.9 362.2ZM516.2 336L530.2 355.8M532.4 358.8L531.2 352.2L530.2 355.8L526.5 355.5ZM516.8 328.7L529.8 349.2M531.8 352.3L530.9 345.7L529.8 349.2L526.1 348.7ZM517.3 321.5L529.4 342.6M531.2 345.8L530.7 339.1L529.4 342.6L525.8 342ZM517.9 314.3L529 336M530.6 339.3L530.4 332.6L529 336L525.4 335.2ZM518.5 307.2L528.5 329.4M530 332.7L530.1 326L528.5 329.4L525 328.3ZM519.2 300.1L528.1 322.7M529.4 326.1L529.8 319.4L528.1 322.7L524.5 321.5ZM518.1 291.6L528.8 317M530.5 320.9L530.7 313.2L528.8 317L524.8 315.7ZM520.5 285L527.1 310M528.1 313.8L529.3 306.7L527.1 310L523.5 308.3ZM560.8 530.7L541.8 541.2M538.9 542.8L544.9 542.4L541.8 541.2L542.5 537.9ZM560.8 520.4L541.8 530.9M538.9 532.5L544.9 532.1L541.8 530.9L542.5 527.7ZM557.4 502.1L544.3 519.4M542.4 522L547.6 519.2L544.3 519.4L543.6 516.2ZM550 380.6L549.7 406.3M549.7 410.2L552.8 403.8L549.7 406.3L546.8 403.8ZM549.7 374.5L550 398.9M550 402.6L552.8 396.5L550 398.9L547.1 396.5ZM547.8 333.7L551.4 357.5M551.9 361.1L553.8 354.7L551.4 357.5L548.3 355.5ZM549.1 325.7L550.4 351.5M550.6 355.4L553.3 348.8L550.4 351.5L547.3 349.1ZM547.2 320.1L551.8 343.7M552.5 347.3L554.1 340.8L551.8 343.7L548.6 341.9ZM548 313.6L551.3 336.5M551.8 340L553.6 333.9L551.3 336.5L548.3 334.6ZM547.8 304.1L551.4 331.6M552 335.8L554.3 328.5L551.4 331.6L547.8 329.3ZM549.1 297.7L550.4 324.4M550.7 328.5L553.4 321.6L550.4 324.4L547.2 322ZM586.9 523.1L567 533.7M564 535.3L570.2 535L567 533.7L567.7 530.3ZM586.9 516.2L567 526.8M564 528.4L570.2 528.1L567 526.8L567.7 523.4ZM579.8 491.9L572.3 515M571.1 518.5L575.7 513.6L572.3 515L570.3 511.8ZM578.8 481L573 502.8M572.1 506.1L576.1 501.3L573 502.8L571 499.9ZM575.3 367.2L575.6 392.4M575.6 396.2L578.5 389.8L575.6 392.4L572.6 389.9ZM576.2 361.8L574.9 384.4M574.7 387.9L577.7 382.4L574.9 384.4L572.4 382.1ZM575.4 355.2L575.5 377.4M575.5 380.8L578.1 375.2L575.5 377.4L572.9 375.2ZM576 347.8L575 370.9M574.9 374.4L577.8 368.7L575 370.9L572.4 368.5ZM575.2 339.8L575.7 364.9M575.7 368.7L578.5 362.4L575.7 364.9L572.7 362.5ZM576 334.3L575.1 357.1M574.9 360.5L577.8 354.9L575.1 357.1L572.5 354.7ZM574.8 325.2L576 351.8M576.1 355.9L579 349.1L576 351.8L572.7 349.4ZM574.8 318.6L575.9 344.8M576.1 348.7L578.9 342L575.9 344.8L572.8 342.3ZM575.7 313.7L575.3 336.5M575.2 339.9L578 334.3L575.3 336.5L572.6 334.2ZM576.3 304.5L574.8 331.4M574.6 335.4L578.1 328.9L574.8 331.4L571.8 328.5ZM574.6 299L576.1 323.5M576.4 327.2L578.8 320.9L576.1 323.5L573.1 321.2ZM575.4 292.6L575.5 316.3M575.5 319.9L578.3 313.9L575.5 316.3L572.7 314ZM606.9 481.1L596.7 500.3M595.2 503.2L600 499.6L596.7 500.3L595.5 497.2ZM605.7 444.9L597.6 465M596.4 468.1L600.7 464L597.6 465L596 462.1ZM608.2 402.3L595.8 420.1M593.9 422.8L599.1 419.8L595.8 420.1L594.9 416.9ZM596 386.7L604.8 406.6M606.1 409.6L606.2 403.6L604.8 406.6L601.6 405.6ZM618 363L588.6 386M584.1 389.4L594.2 387.1L588.6 386L588.8 380.3ZM600 355.5L601.8 377.1M602.1 380.4L604.2 374.8L601.8 377.1L599.1 375.2ZM602 333.2L600.4 357.9M600.1 361.6L603.4 355.6L600.4 357.9L597.6 355.2ZM601.6 328.5L600.6 349.4M600.4 352.6L603.1 347.5L600.6 349.4L598.3 347.2ZM600.4 320.8L601.5 343.1M601.7 346.5L604 340.8L601.5 343.1L598.8 341.1ZM609.3 320.8L595 342M592.8 345.2L598.9 341.6L595 342L593.9 338.2ZM603.2 299.3L599.4 323.3M598.9 326.9L602.6 321.4L599.4 323.3L597 320.5ZM638.7 507.4L617.7 519M614.5 520.8L621.1 520.3L617.7 519L618.4 515.4ZM637.7 500.7L618.5 513.2M615.6 515.1L621.8 514.2L618.5 513.2L618.9 509.7ZM638 492.7L618.3 503.6M615.3 505.3L621.5 504.9L618.3 503.6L618.9 500.3ZM636.1 462L619.7 476.2M617.2 478.4L623 476.7L619.7 476.2L619.6 472.9ZM639 454L617.5 457.1M614.2 457.5L620 459.3L617.5 457.1L619.3 454.3ZM636 431.9L619.7 454.3M617.2 457.8L623.9 454L619.7 454.3L618.7 450.2ZM636.6 422.7L619.3 452.8M616.6 457.3L624.5 451.8L619.3 452.8L617.5 447.8ZM637.5 415.2L618.6 452.3M615.7 458L624.8 450.9L618.6 452.3L616.1 446.5ZM634.5 389.1L620.8 406M618.8 408.6L624.2 405.9L620.8 406L620.2 402.7ZM637.2 385.4L618.8 396.9M616 398.6L622 397.9L618.8 396.9L619.3 393.6ZM639.4 377.2L617.2 388.6M613.8 390.3L620.7 390L617.2 388.6L618.1 384.8ZM623.4 360L629 381M629.9 384.2L630.9 378.3L629 381L626 379.6ZM631.3 327.5L623.2 351.3M621.9 354.9L626.7 349.9L623.2 351.3L621.2 348ZM663 492.8L644.2 503.6M641.4 505.3L647.4 504.7L644.2 503.6L644.8 500.3ZM657.5 380L648.3 399.6M646.9 402.6L651.5 398.8L648.3 399.6L646.9 396.6ZM656.5 356L649 379.2M647.9 382.7L652.5 377.8L649 379.2L647.1 376ZM683.3 387.1L673.7 407.5M672.3 410.6L677.1 406.6L673.7 407.5L672.3 404.4ZM661.2 357.3L690 378.2M694.4 381.4L689.6 372.8L690 378.2L684.7 379.5ZM713.4 392.7L696 405.8M693.4 407.7L699.3 406.5L696 405.8L696.2 402.4ZM715.4 388.5L694.5 394.5M691.4 395.4L697.3 396.4L694.5 394.5L695.9 391.5ZM690.2 383.7L713.1 360M716.6 356.4L708.1 359.6L713.1 360L713.6 365ZM731.9 363.2L682.4 363.2M674.9 363.2L687.3 369L682.4 363.2L687.3 357.4ZM735.7 431.7L724 452M722.2 455.1L727.5 451.4L724 452L722.8 448.7ZM736.5 425.4L723.4 444.8M721.4 447.8L727 444.4L723.4 444.8L722.4 441.4ZM737.3 419.1L722.8 437.5M720.6 440.4L726.4 437.4L722.8 437.5L722.1 434ZM737.8 415.4L722.4 431.9M720.1 434.4L725.9 432.1L722.4 431.9L722 428.5ZM737.8 409.9L722.4 426.4M720.1 428.9L725.9 426.6L722.4 426.4L722 423ZM738 403.9L722.3 420.1M719.9 422.6L725.8 420.4L722.3 420.1L722 416.7ZM738 397L722.3 413.3M719.9 415.7L725.8 413.5L722.3 413.3L722 409.8ZM738.2 392.4L722.2 408.4M719.8 410.8L725.6 408.7L722.2 408.4L721.9 404.9ZM738.5 386.6L721.9 403.1M719.4 405.7L725.5 403.4L721.9 403.1L721.6 399.6ZM739 372.7L721.5 389.5M718.9 392.1L725.2 389.9L721.5 389.5L721.3 385.8ZM741.7 363.9L719.6 373.3M716.2 374.8L722.9 375L719.6 373.3L720.7 369.8ZM741.1 353.7L720 370.2M716.8 372.7L724 371L720 370.2L720.2 366.1ZM741.1 348.6L720 337M716.8 335.2L720.8 340.6L720 337L723.5 335.7ZM763.4 393.4L748 408.8M745.7 411.1L751.3 409.1L748 408.8L747.8 405.5ZM763.8 388.4L747.7 402.9M745.3 405.2L751 403.4L747.7 402.9L747.6 399.6ZM764.1 383.3L747.5 397.2M745 399.3L750.8 397.8L747.5 397.2L747.5 393.9ZM764.1 377.1L747.5 391M745 393.2L750.8 391.6L747.5 391L747.5 387.7ZM765.9 382.2L746.2 374.2M743.2 373L747.2 377.3L746.2 374.2L749.1 372.7ZM763.7 361.5L747.8 377.5M745.3 379.9L751.2 377.8L747.8 377.5L747.5 374.1ZM764.8 347.7L747 367.4M744.3 370.4L751.1 367.6L747 367.4L746.5 363.4ZM765 369L746.9 348.2M744.1 345L746.2 352.3L746.9 348.2L751.1 348.1ZM766.6 332.7L745.7 355.9M742.5 359.4L750.5 356L745.7 355.9L745 351.1ZM767 342.6L745.3 342.6M742 342.6L747.5 345.1L745.3 342.6L747.5 340.1ZM768.2 331L744.5 335.6M740.9 336.3L747.4 337.9L744.5 335.6L746.3 332.4ZM768.8 354.5L744 306.4M740.3 299.1L740.9 314.1L744 306.4L752.1 308.3ZM784.8 438.4L776.7 465M775.4 469L780.6 463.3L776.7 465L774.4 461.4ZM784.8 431.6L776.7 458.1M775.4 462.2L780.6 456.5L776.7 458.1L774.4 454.6ZM784.5 424.6L776.9 451.3M775.7 455.4L780.8 449.6L776.9 451.3L774.5 447.8ZM789.4 382.9L773.3 397.5M770.8 399.7L776.6 397.9L773.3 397.5L773.2 394.1ZM789.6 376.9L773.2 391.2M770.7 393.3L776.5 391.7L773.2 391.2L773.1 387.8ZM789.7 371.6L773.1 385.6M770.5 387.7L776.3 386.1L773.1 385.6L773.1 382.2ZM789.7 367.5L773.1 381.4M770.5 383.6L776.3 382L773.1 381.4L773.1 378.1ZM795.4 370L768.9 370M764.8 370L771.5 373.1L768.9 370L771.5 366.9ZM815.9 376.3L798.2 391.6M795.5 394L801.7 392.2L798.2 391.6L798.2 388.1ZM816.4 370.6L797.8 386.3M795 388.6L801.5 386.9L797.8 386.3L797.8 382.6ZM816.4 365.8L797.8 381.5M795 383.8L801.5 382.1L797.8 381.5L797.8 377.7ZM816.4 361L797.8 376.7M795 379L801.5 377.3L797.8 376.7L797.8 372.9ZM833.6 294.1L785.2 339M777.8 345.8L795.2 340.2L785.2 339L784.7 328.9Z"/>
<path stroke="#000" d="M773 332L819 375"/>
</g>
<path fill="none" stroke="#000" stroke-width="1" shape-rendering="crispEdges" d="M204.5 99.5H818.5V598.5H204.5ZM204.5 598.5v-10M204.5 99.5v10M230.5 598.5v-6M230.5 99.5v6M255.5 598.5v-6M255.5 99.5v6M281.5 598.5v-6M281.5 99.5v6M306.5 598.5v-6M306.5 99.5v6M332.5 598.5v-6M332.5 99.5v6M358.5 598.5v-10M358.5 99.5v10M383.5 598.5v-6M383.5 99.5v6M409.5 598.5v-6M409.5 99.5v6M434.5 598.5v-6M434.5 99.5v6M460.5 598.5v-6M460.5 99.5v6M485.5 598.5v-6M485.5 99.5v6M511.5 598.5v-10M511.5 99.5v10M537.5 598.5v-6M537.5 99.5v6M562.5 598.5v-6M562.5 99.5v6M588.5 598.5v-6M588.5 99.5v6M613.5 598.5v-6M613.5 99.5v6M639.5 598.5v-6M639.5 99.5v6M664.5 598.5v-10M664.5 99.5v10M690.5 598.5v-6M690.5 99.5v6M716.5 598.5v-6M716.5 99.5v6M741.5 598.5v-6M741.5 99.5v6M767.5 598.5v-6M767.5 99.5v6M792.5 598.5v-6M792.5 99.5v6M818.5 598.5v-10M818.5 99.5v10M204.5 598.5h10M818.5 598.5h-10M204.5 573.5h6M818.5 573.5h-6M204.5 548.5h6M818.5 548.5h-6M204.5 523.5h6M818.5 523.5h-6M204.5 498.5h6M818.5 498.5h-6M204.5 473.5h10M818.5 473.5h-10M204.5 448.5h6M818.5 448.5h-6M204.5 423.5h6M818.5 423.5h-6M204.5 398.5h6M818.5 398.5h-6M204.5 373.5h6M818.5 373.5h-6M204.5 348.5h10M818.5 348.5h-10M204.5 324.5h6M818.5 324.5h-6M204.5 299.5h6M818.5 299.5h-6M204.5 274.5h6M818.5 274.5h-6M204.5 249.5h6M818.5 249.5h-6M204.5 224.5h10M818.5 224.5h-10M204.5 199.5h6M818.5 199.5h-6M204.5 174.5h6M818.5 174.5h-6M204.5 149.5h6M818.5 149.5h-6M204.5 124.5h6M818.5 124.5h-6M204.5 99.5h10M818.5 99.5h-10"/>
<rect x="244" y="645" width="81" height="13" fill="#ffff00" shape-rendering="crispEdges"/>
<rect x="326" y="645" width="81" height="13" fill="#00ff00" shape-rendering="crispEdges"/>
<rect x="408" y="645" width="81" height="13" fill="#0080ff" shape-rendering="crispEdges"/>
<rect x="490" y="645" width="81" height="13" fill="#ff00ff" shape-rendering="crispEdges"/>
<rect x="572" y="645" width="81" height="13" fill="#ff0000" shape-rendering="crispEdges"/>
<rect x="654" y="645" width="82" height="13" fill="#000000" shape-rendering="crispEdges"/>
<g style="opacity:0.999">
<text x="202" y="603" text-anchor="end" font-family="Liberation Mono, monospace" font-size="15" textLength="37" lengthAdjust="spacingAndGlyphs">0.00</text>
<text x="202" y="478.2" text-anchor="end" font-family="Liberation Mono, monospace" font-size="15" textLength="37" lengthAdjust="spacingAndGlyphs">1.00</text>
<text x="202" y="353.5" text-anchor="end" font-family="Liberation Mono, monospace" font-size="15" textLength="37" lengthAdjust="spacingAndGlyphs">2.00</text>
<text x="202" y="228.8" text-anchor="end" font-family="Liberation Mono, monospace" font-size="15" textLength="37" lengthAdjust="spacingAndGlyphs">3.00</text>
<text x="202" y="104" text-anchor="end" font-family="Liberation Mono, monospace" font-size="15" textLength="37" lengthAdjust="spacingAndGlyphs">4.00</text>
<text x="204.5" y="622.5" text-anchor="middle" font-family="Liberation Mono, monospace" font-size="15" textLength="26" lengthAdjust="spacingAndGlyphs">0.0</text>
<text x="358" y="622.5" text-anchor="middle" font-family="Liberation Mono, monospace" font-size="15" textLength="26" lengthAdjust="spacingAndGlyphs">6.0</text>
<text x="511.5" y="622.5" text-anchor="middle" font-family="Liberation Mono, monospace" font-size="15" textLength="34" lengthAdjust="spacingAndGlyphs">12.0</text>
<text x="665" y="622.5" text-anchor="middle" font-family="Liberation Mono, monospace" font-size="15" textLength="34" lengthAdjust="spacingAndGlyphs">18.0</text>
<text x="818.5" y="622.5" text-anchor="middle" font-family="Liberation Mono, monospace" font-size="15" textLength="34" lengthAdjust="spacingAndGlyphs">24.0</text>
<text x="353" y="85" font-family="Liberation Serif, serif" font-size="18.5" textLength="94" lengthAdjust="spacingAndGlyphs">LaMarque</text>
<text x="567" y="85" font-family="Liberation Serif, serif" font-size="18.5" textLength="84" lengthAdjust="spacingAndGlyphs">9/16/00</text>
<text x="456.5" y="642.5" font-family="Liberation Serif, serif" font-size="18.5" textLength="82" lengthAdjust="spacingAndGlyphs">UTC (hr)</text>
<text transform="translate(144 462) rotate(-90)" font-family="Liberation Serif, serif" font-size="18.5" textLength="120" lengthAdjust="spacingAndGlyphs">Height (km)</text>
<text x="327" y="682.5" font-family="Liberation Serif, serif" font-size="25" textLength="24" lengthAdjust="spacingAndGlyphs">2.</text>
<text x="409" y="682.5" font-family="Liberation Serif, serif" font-size="25" textLength="24" lengthAdjust="spacingAndGlyphs">4.</text>
<text x="491" y="682.5" font-family="Liberation Serif, serif" font-size="25" textLength="24" lengthAdjust="spacingAndGlyphs">6.</text>
<text x="573" y="682.5" font-family="Liberation Serif, serif" font-size="25" textLength="24" lengthAdjust="spacingAndGlyphs">8.</text>
<text x="641" y="682.5" font-family="Liberation Serif, serif" font-size="25" textLength="37" lengthAdjust="spacingAndGlyphs">10.</text>
<text x="440.5" y="702" font-family="Liberation Serif, serif" font-size="14.5" stroke="#000" stroke-width="0.25" textLength="141.5" lengthAdjust="spacingAndGlyphs">Wind speed (m/s)</text>
<text x="848" y="729" font-family="Liberation Serif, serif" font-size="9" font-weight="bold" textLength="45" lengthAdjust="spacingAndGlyphs">0.100E+08</text>
<text x="856" y="752" font-family="Liberation Serif, serif" font-size="9" font-weight="bold" textLength="31" lengthAdjust="spacingAndGlyphs">10 m/s</text>
</g>
<path fill="none" stroke="#f00" stroke-width="1" shape-rendering="crispEdges" d="M858 736.5H883M883 736.5l-5 -2M883 736.5l-5 2"/>
</svg>
</body></html>
